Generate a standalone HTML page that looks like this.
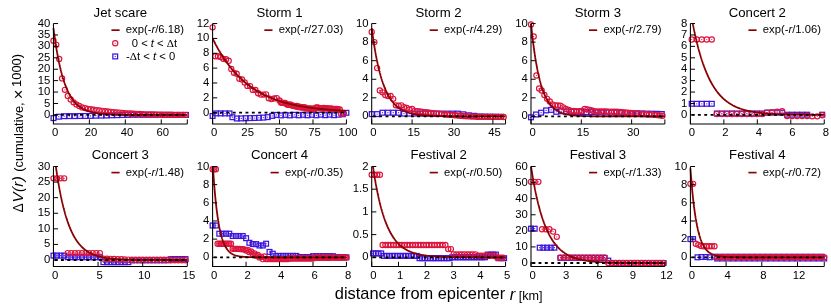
<!DOCTYPE html>
<html lang="en">
<head>
<meta charset="utf-8">
<title>Decay of activity with distance from epicenter</title>
<style>
html,body{margin:0;padding:0;background:#fff;}
body{width:831px;height:307px;overflow:hidden;}
svg{display:block;will-change:transform;}
</style>
</head>
<body>
<svg width="831" height="307" viewBox="0 0 831 307" font-family='"Liberation Sans", Arial, Helvetica, sans-serif'>
<rect width="831" height="307" fill="#fff"/>
<defs><g id="q"><rect x="-2.4" y="-2.4" width="4.8" height="4.8" fill="none" stroke="#3c14dc" stroke-width="1.25"/><circle r="0.6" fill="#3c14dc"/></g><g id="o"><circle r="2.6" fill="none" stroke="#dc143c" stroke-width="1.15"/><circle r="0.6" fill="#dc143c"/></g></defs>
<g>
<clipPath id="c0"><rect x="49.45" y="23.05" width="141.85" height="101.45"/></clipPath>
<text x="120.38" y="16.95" font-size="13.2" text-anchor="middle" fill="#000">Jet scare</text>
<g><use href="#q" x="53.5" y="118.1"/><use href="#q" x="58.8" y="116.7"/><use href="#q" x="64.1" y="116.2"/><use href="#q" x="69.4" y="116.1"/><use href="#q" x="74.7" y="116.1"/><use href="#q" x="80" y="116"/><use href="#q" x="85.3" y="116"/><use href="#q" x="90.6" y="115.9"/><use href="#q" x="95.9" y="115.7"/><use href="#q" x="101.2" y="115.6"/><use href="#q" x="106.5" y="115.5"/><use href="#q" x="111.8" y="115.3"/><use href="#q" x="117.1" y="115.2"/><use href="#q" x="122.4" y="115"/><use href="#q" x="127.7" y="114.9"/><use href="#q" x="133" y="114.8"/><use href="#q" x="138.3" y="114.8"/><use href="#q" x="143.6" y="114.8"/><use href="#q" x="148.9" y="114.8"/><use href="#q" x="154.2" y="114.8"/><use href="#q" x="159.5" y="114.8"/><use href="#q" x="164.8" y="114.9"/><use href="#q" x="170.1" y="114.9"/><use href="#q" x="175.4" y="114.9"/><use href="#q" x="180.7" y="114.9"/><use href="#q" x="186" y="114.9"/><use href="#o" x="53.5" y="40.7"/><use href="#o" x="56.3" y="44.8"/><use href="#o" x="59.2" y="58.9"/><use href="#o" x="62.1" y="78.4"/><use href="#o" x="64.9" y="89.8"/><use href="#o" x="67.8" y="95.9"/><use href="#o" x="70.7" y="99.4"/><use href="#o" x="73.6" y="102.3"/><use href="#o" x="76.4" y="104.4"/><use href="#o" x="79.3" y="106"/><use href="#o" x="82.2" y="107.4"/><use href="#o" x="85.1" y="108.1"/><use href="#o" x="87.9" y="108.8"/><use href="#o" x="90.8" y="109.2"/><use href="#o" x="93.7" y="109.7"/><use href="#o" x="96.6" y="110.1"/><use href="#o" x="99.4" y="110.5"/><use href="#o" x="102.3" y="110.8"/><use href="#o" x="105.2" y="111.2"/><use href="#o" x="108.1" y="111.5"/><use href="#o" x="110.9" y="111.8"/><use href="#o" x="113.8" y="112.1"/><use href="#o" x="116.7" y="112.4"/><use href="#o" x="119.6" y="112.6"/><use href="#o" x="122.4" y="112.9"/><use href="#o" x="125.3" y="113.2"/><use href="#o" x="128.2" y="113.4"/><use href="#o" x="131.1" y="113.5"/><use href="#o" x="133.9" y="113.7"/><use href="#o" x="136.8" y="113.8"/><use href="#o" x="139.7" y="114"/><use href="#o" x="142.6" y="114.2"/><use href="#o" x="145.4" y="114.3"/><use href="#o" x="148.3" y="114.3"/><use href="#o" x="151.2" y="114.4"/><use href="#o" x="154.1" y="114.5"/><use href="#o" x="156.9" y="114.6"/><use href="#o" x="159.8" y="114.6"/><use href="#o" x="162.7" y="114.7"/><use href="#o" x="165.6" y="114.7"/><use href="#o" x="168.4" y="114.7"/><use href="#o" x="171.3" y="114.7"/><use href="#o" x="174.2" y="114.8"/><use href="#o" x="177.1" y="114.8"/><use href="#o" x="179.9" y="114.8"/><use href="#o" x="182.8" y="114.8"/><use href="#o" x="185.7" y="114.8"/></g>
<polyline points="53.45,28.12 53.52,28.64 53.58,29.16 53.65,29.67 53.72,30.18 53.78,30.69 53.85,31.2 53.92,31.7 53.99,32.2 54.05,32.7 54.12,33.19 54.19,33.68 54.25,34.17 54.32,34.66 54.39,35.14 54.45,35.62 54.52,36.1 54.59,36.57 54.65,37.04 54.72,37.51 54.79,37.97 54.86,38.44 54.92,38.89 54.99,39.35 55.06,39.81 55.12,40.26 55.19,40.71 55.26,41.15 55.32,41.59 55.39,42.04 55.46,42.47 55.52,42.91 55.59,43.34 55.66,43.77 55.73,44.2 55.79,44.62 55.86,45.05 55.93,45.47 55.99,45.88 56.06,46.3 56.13,46.71 56.19,47.12 56.26,47.53 56.33,47.93 56.39,48.33 56.46,48.73 56.53,49.13 56.6,49.53 56.66,49.92 56.73,50.31 56.8,50.7 56.86,51.08 56.93,51.47 57,51.85 57.06,52.23 57.13,52.6 57.2,52.98 57.26,53.35 57.33,53.72 57.4,54.09 57.47,54.45 57.53,54.82 57.6,55.18 57.67,55.54 57.73,55.89 57.8,56.25 57.87,56.6 57.93,56.95 58,57.3 58.07,57.65 58.13,57.99 58.2,58.33 58.27,58.67 58.34,59.01 58.4,59.35 58.47,59.68 58.54,60.01 58.6,60.34 58.67,60.67 58.74,60.99 58.8,61.32 58.87,61.64 58.94,61.96 59,62.28 59.07,62.59 59.14,62.91 59.21,63.22 59.27,63.53 59.34,63.84 59.41,64.15 59.47,64.45 59.54,64.76 59.61,65.06 59.67,65.36 59.74,65.65 59.81,65.95 59.87,66.24 59.94,66.54 60.01,66.83 60.08,67.12 60.14,67.4 60.21,67.69 60.28,67.97 60.34,68.25 60.41,68.54 60.48,68.81 60.54,69.09 60.61,69.37 60.68,69.64 60.74,69.91 60.81,70.18 60.88,70.45 60.95,70.72 61.01,70.98 61.08,71.25 61.15,71.51 61.21,71.77 61.28,72.03 61.35,72.29 61.41,72.54 61.48,72.8 61.55,73.05 61.61,73.3 61.68,73.55 61.75,73.8 61.82,74.05 61.88,74.29 61.95,74.54 62.02,74.78 62.08,75.02 62.15,75.26 62.22,75.5 62.28,75.74 62.35,75.97 62.42,76.2 62.48,76.44 62.55,76.67 62.62,76.9 62.69,77.13 62.75,77.35 62.82,77.58 62.89,77.8 62.95,78.03 63.02,78.25 63.09,78.47 63.15,78.69 63.22,78.9 63.29,79.12 63.35,79.34 63.42,79.55 63.49,79.76 63.56,79.97 63.62,80.18 63.69,80.39 63.76,80.6 63.82,80.81 63.89,81.01 63.96,81.21 64.02,81.42 64.09,81.62 64.16,81.82 64.22,82.02 64.29,82.21 64.36,82.41 64.43,82.61 64.49,82.8 64.56,82.99 64.63,83.18 64.69,83.37 64.76,83.56 64.83,83.75 64.89,83.94 64.96,84.13 65.03,84.31 65.09,84.49 65.16,84.68 65.23,84.86 65.3,85.04 65.36,85.22 65.43,85.4 65.5,85.57 65.56,85.75 65.63,85.93 65.7,86.1 65.76,86.27 65.83,86.45 65.9,86.62 65.96,86.79 66.03,86.96 66.1,87.12 66.17,87.29 66.23,87.46 66.3,87.62 66.37,87.78 66.43,87.95 66.5,88.11 66.57,88.27 66.63,88.43 66.7,88.59 66.77,88.75 66.84,88.91 67.67,90.79 68.51,92.54 69.34,94.16 70.18,95.67 71.02,97.06 71.85,98.36 72.69,99.56 73.53,100.67 74.36,101.71 75.2,102.66 76.04,103.55 76.87,104.37 77.71,105.14 78.55,105.85 79.38,106.5 80.22,107.11 81.06,107.68 81.89,108.2 82.73,108.69 83.57,109.14 84.4,109.56 85.24,109.95 86.08,110.3 86.91,110.64 87.75,110.95 88.59,111.23 89.42,111.5 90.26,111.75 91.1,111.98 91.93,112.19 92.77,112.39 93.61,112.57 94.44,112.74 95.28,112.89 96.11,113.04 96.95,113.17 97.79,113.3 98.62,113.42 99.46,113.52 100.3,113.62 101.13,113.72 101.97,113.8 102.81,113.88 103.64,113.96 104.48,114.02 105.32,114.09 106.15,114.15 106.99,114.2 107.83,114.25 108.66,114.3 109.5,114.34 110.34,114.38 111.17,114.42 112.01,114.46 112.85,114.49 113.68,114.52 114.52,114.55 115.36,114.57 116.19,114.59 117.03,114.62 117.87,114.64 118.7,114.66 119.54,114.67 120.38,114.69 121.21,114.71 122.05,114.72 122.88,114.73 123.72,114.75 124.56,114.76 125.39,114.77 126.23,114.78 127.07,114.79 127.9,114.79 128.74,114.8 129.58,114.81 130.41,114.82 131.25,114.82 132.09,114.83 132.92,114.83 133.76,114.84 134.6,114.84 135.43,114.85 136.27,114.85 137.11,114.85 137.94,114.86 138.78,114.86 139.62,114.86 140.45,114.87 141.29,114.87 142.13,114.87 142.96,114.87 143.8,114.87 144.64,114.88 145.47,114.88 146.31,114.88 147.14,114.88 147.98,114.88 148.82,114.88 149.65,114.89 150.49,114.89 151.33,114.89 152.16,114.89 153,114.89 153.84,114.89 154.67,114.89 155.51,114.89 156.35,114.89 157.18,114.89 158.02,114.89 158.86,114.89 159.69,114.89 160.53,114.89 161.37,114.89 162.2,114.9 163.04,114.9 163.88,114.9 164.71,114.9 165.55,114.9 166.39,114.9 167.22,114.9 168.06,114.9 168.9,114.9 169.73,114.9 170.57,114.9 171.41,114.9 172.24,114.9 173.08,114.9 173.91,114.9 174.75,114.9 175.59,114.9 176.42,114.9 177.26,114.9 178.1,114.9 178.93,114.9 179.77,114.9 180.61,114.9 181.44,114.9 182.28,114.9 183.12,114.9 183.95,114.9 184.79,114.9 185.63,114.9 186.46,114.9 187.3,114.9" fill="none" stroke="#8b0000" stroke-width="1.8" stroke-linejoin="round" clip-path="url(#c0)"/>
<line x1="53.45" y1="114.9" x2="187.3" y2="114.9" stroke="#000" stroke-width="1.8" stroke-dasharray="2.9 3.45" stroke-dashoffset="-1.15"/>
<path d="M53.45 23.55V124H187.3" fill="none" stroke="#000" stroke-width="1.05"/>
<path d="M53.45 124v-4.6M89.38 124v-4.6M125.32 124v-4.6M161.25 124v-4.6M187.3 124v-4.6M53.45 114.9h4.6M53.45 103.48h4.6M53.45 92.06h4.6M53.45 80.64h4.6M53.45 69.22h4.6M53.45 57.81h4.6M53.45 46.39h4.6M53.45 34.97h4.6M53.45 23.55h4.6" fill="none" stroke="#000" stroke-width="1.0"/>
<text x="55.05" y="136.3" font-size="11.3" text-anchor="middle" fill="#000">0</text>
<text x="90.98" y="136.3" font-size="11.3" text-anchor="middle" fill="#000">20</text>
<text x="126.92" y="136.3" font-size="11.3" text-anchor="middle" fill="#000">40</text>
<text x="162.85" y="136.3" font-size="11.3" text-anchor="middle" fill="#000">60</text>
<text x="50.25" y="117.95" font-size="11.3" text-anchor="end" fill="#000">0</text>
<text x="50.25" y="106.53" font-size="11.3" text-anchor="end" fill="#000">5</text>
<text x="50.25" y="95.11" font-size="11.3" text-anchor="end" fill="#000">10</text>
<text x="50.25" y="83.69" font-size="11.3" text-anchor="end" fill="#000">15</text>
<text x="50.25" y="72.27" font-size="11.3" text-anchor="end" fill="#000">20</text>
<text x="50.25" y="60.86" font-size="11.3" text-anchor="end" fill="#000">25</text>
<text x="50.25" y="49.44" font-size="11.3" text-anchor="end" fill="#000">30</text>
<text x="50.25" y="38.02" font-size="11.3" text-anchor="end" fill="#000">35</text>
<text x="50.25" y="26.6" font-size="11.3" text-anchor="end" fill="#000">40</text>
<text x="184" y="33.35" font-size="11.25" text-anchor="end" fill="#000">exp(-<tspan font-style="italic">r</tspan>/6.18)</text>
<line x1="111.43" y1="30.15" x2="119.63" y2="30.15" stroke="#8b0000" stroke-width="1.65"/>
<use href="#o" x="115.23" y="43.25"/>
<text x="177.2" y="46.75" font-size="11.25" text-anchor="end" fill="#000">0 &lt; <tspan font-style="italic">t</tspan> &lt; <tspan font-family="Liberation Serif, serif">Δ</tspan>t</text>
<use href="#q" x="115.23" y="56.45"/>
<text x="175.2" y="59.75" font-size="11.25" text-anchor="end" fill="#000">-<tspan font-family="Liberation Serif, serif">Δ</tspan>t &lt; <tspan font-style="italic">t</tspan> &lt; 0</text>
</g>
<g>
<clipPath id="c1"><rect x="208.6" y="23.05" width="141.85" height="101.45"/></clipPath>
<text x="279.52" y="16.95" font-size="13.2" text-anchor="middle" fill="#000">Storm 1</text>
<g><use href="#q" x="212.6" y="116"/><use href="#q" x="216.2" y="113.4"/><use href="#q" x="220.6" y="113.4"/><use href="#q" x="225" y="113.4"/><use href="#q" x="229.5" y="113.4"/><use href="#q" x="232.4" y="117.2"/><use href="#q" x="236.8" y="118.5"/><use href="#q" x="241.2" y="118.4"/><use href="#q" x="245.7" y="118.2"/><use href="#q" x="250.1" y="118.1"/><use href="#q" x="254.5" y="118"/><use href="#q" x="258.9" y="117.8"/><use href="#q" x="263.3" y="117.6"/><use href="#q" x="267.7" y="117.1"/><use href="#q" x="272.2" y="115.9"/><use href="#q" x="276.6" y="114.9"/><use href="#q" x="281" y="115.4"/><use href="#q" x="285.4" y="114.9"/><use href="#q" x="289.8" y="115.4"/><use href="#q" x="294.2" y="114.8"/><use href="#q" x="298.7" y="115.3"/><use href="#q" x="303.1" y="114.8"/><use href="#q" x="307.5" y="115.3"/><use href="#q" x="311.9" y="114.8"/><use href="#q" x="316.3" y="115.3"/><use href="#q" x="320.8" y="114.7"/><use href="#q" x="325.2" y="115.2"/><use href="#q" x="329.6" y="114.7"/><use href="#q" x="334" y="115.2"/><use href="#q" x="338.4" y="114.7"/><use href="#q" x="342.8" y="114.3"/><use href="#q" x="346.4" y="112.8"/><use href="#o" x="212.6" y="27.3"/><use href="#o" x="215.3" y="56.2"/><use href="#o" x="218" y="56.2"/><use href="#o" x="220.6" y="57"/><use href="#o" x="223.3" y="58.8"/><use href="#o" x="226" y="59.2"/><use href="#o" x="228.7" y="60.7"/><use href="#o" x="231.3" y="69"/><use href="#o" x="234" y="72.8"/><use href="#o" x="236.7" y="73.7"/><use href="#o" x="239.4" y="78.8"/><use href="#o" x="242" y="79.4"/><use href="#o" x="244.7" y="82.5"/><use href="#o" x="247.4" y="85.9"/><use href="#o" x="250.1" y="86.1"/><use href="#o" x="252.8" y="89.9"/><use href="#o" x="255.4" y="90"/><use href="#o" x="258.1" y="93.2"/><use href="#o" x="260.8" y="94.6"/><use href="#o" x="263.5" y="94.6"/><use href="#o" x="266.1" y="94.3"/><use href="#o" x="268.8" y="98.3"/><use href="#o" x="271.5" y="99.1"/><use href="#o" x="274.2" y="98.4"/><use href="#o" x="276.8" y="98.1"/><use href="#o" x="279.5" y="100.5"/><use href="#o" x="282.2" y="102.9"/><use href="#o" x="284.9" y="102.9"/><use href="#o" x="287.6" y="104.8"/><use href="#o" x="290.2" y="104.5"/><use href="#o" x="292.9" y="105.8"/><use href="#o" x="295.6" y="106.5"/><use href="#o" x="298.3" y="107.1"/><use href="#o" x="300.9" y="107.4"/><use href="#o" x="303.6" y="107.2"/><use href="#o" x="306.3" y="108.4"/><use href="#o" x="309" y="108.3"/><use href="#o" x="311.6" y="108.6"/><use href="#o" x="314.3" y="109.3"/><use href="#o" x="317" y="107.4"/><use href="#o" x="319.7" y="108.1"/><use href="#o" x="322.4" y="108.4"/><use href="#o" x="325" y="108.5"/><use href="#o" x="327.7" y="108.3"/><use href="#o" x="330.4" y="108.8"/><use href="#o" x="333.1" y="109.1"/><use href="#o" x="335.7" y="109"/><use href="#o" x="338.4" y="109.3"/><use href="#o" x="341.1" y="113.8"/><use href="#o" x="343.8" y="113.8"/><use href="#o" x="280.9" y="102.5"/><use href="#o" x="283.5" y="102.9"/><use href="#o" x="286.2" y="103.7"/><use href="#o" x="288.9" y="104.8"/><use href="#o" x="291.6" y="105.2"/><use href="#o" x="294.2" y="105.8"/><use href="#o" x="296.9" y="106"/><use href="#o" x="299.6" y="106.7"/><use href="#o" x="302.3" y="107.6"/><use href="#o" x="305" y="107.4"/><use href="#o" x="307.6" y="108.6"/><use href="#o" x="310.3" y="108.7"/><use href="#o" x="313" y="108.7"/><use href="#o" x="315.7" y="107.6"/><use href="#o" x="318.3" y="107.6"/><use href="#o" x="321" y="108.3"/><use href="#o" x="323.7" y="108"/><use href="#o" x="326.4" y="108.1"/><use href="#o" x="329" y="108.5"/><use href="#o" x="331.7" y="108.5"/><use href="#o" x="334.4" y="109.2"/><use href="#o" x="337.1" y="109"/><use href="#o" x="339.8" y="109.3"/></g>
<polyline points="212.6,38.41 212.67,38.55 212.73,38.68 212.8,38.82 212.87,38.96 212.93,39.09 213,39.23 213.07,39.36 213.14,39.5 213.2,39.63 213.27,39.77 213.34,39.9 213.4,40.04 213.47,40.17 213.54,40.31 213.6,40.44 213.67,40.57 213.74,40.71 213.8,40.84 213.87,40.97 213.94,41.11 214.01,41.24 214.07,41.37 214.14,41.5 214.21,41.63 214.27,41.77 214.34,41.9 214.41,42.03 214.47,42.16 214.54,42.29 214.61,42.42 214.67,42.55 214.74,42.68 214.81,42.81 214.88,42.94 214.94,43.07 215.01,43.19 215.08,43.32 215.14,43.45 215.21,43.58 215.28,43.71 215.34,43.83 215.41,43.96 215.48,44.09 215.54,44.22 215.61,44.34 215.68,44.47 215.75,44.59 215.81,44.72 215.88,44.85 215.95,44.97 216.01,45.1 216.08,45.22 216.15,45.35 216.21,45.47 216.28,45.59 216.35,45.72 216.41,45.84 216.48,45.97 216.55,46.09 216.62,46.21 216.68,46.34 216.75,46.46 216.82,46.58 216.88,46.7 216.95,46.82 217.02,46.95 217.08,47.07 217.15,47.19 217.22,47.31 217.28,47.43 217.35,47.55 217.42,47.67 217.49,47.79 217.55,47.91 217.62,48.03 217.69,48.15 217.75,48.27 217.82,48.39 217.89,48.51 217.95,48.63 218.02,48.75 218.09,48.86 218.15,48.98 218.22,49.1 218.29,49.22 218.36,49.33 218.42,49.45 218.49,49.57 218.56,49.69 218.62,49.8 218.69,49.92 218.76,50.03 218.82,50.15 218.89,50.27 218.96,50.38 219.02,50.5 219.09,50.61 219.16,50.73 219.23,50.84 219.29,50.95 219.36,51.07 219.43,51.18 219.49,51.3 219.56,51.41 219.63,51.52 219.69,51.64 219.76,51.75 219.83,51.86 219.89,51.97 219.96,52.09 220.03,52.2 220.1,52.31 220.16,52.42 220.23,52.53 220.3,52.64 220.36,52.76 220.43,52.87 220.5,52.98 220.56,53.09 220.63,53.2 220.7,53.31 220.76,53.42 220.83,53.53 220.9,53.64 220.97,53.75 221.03,53.85 221.1,53.96 221.17,54.07 221.23,54.18 221.3,54.29 221.37,54.4 221.43,54.5 221.5,54.61 221.57,54.72 221.63,54.83 221.7,54.93 221.77,55.04 221.84,55.15 221.9,55.25 221.97,55.36 222.04,55.46 222.1,55.57 222.17,55.68 222.24,55.78 222.3,55.89 222.37,55.99 222.44,56.1 222.5,56.2 222.57,56.31 222.64,56.41 222.71,56.51 222.77,56.62 222.84,56.72 222.91,56.82 222.97,56.93 223.04,57.03 223.11,57.13 223.17,57.24 223.24,57.34 223.31,57.44 223.37,57.54 223.44,57.65 223.51,57.75 223.58,57.85 223.64,57.95 223.71,58.05 223.78,58.15 223.84,58.25 223.91,58.35 223.98,58.45 224.04,58.55 224.11,58.65 224.18,58.75 224.24,58.85 224.31,58.95 224.38,59.05 224.45,59.15 224.51,59.25 224.58,59.35 224.65,59.45 224.71,59.55 224.78,59.64 224.85,59.74 224.91,59.84 224.98,59.94 225.05,60.04 225.11,60.13 225.18,60.23 225.25,60.33 225.32,60.42 225.38,60.52 225.45,60.62 225.52,60.71 225.58,60.81 225.65,60.91 225.72,61 225.78,61.1 225.85,61.19 225.92,61.29 225.98,61.38 226.82,62.56 227.66,63.7 228.49,64.82 229.33,65.92 230.17,66.98 231,68.03 231.84,69.05 232.68,70.05 233.51,71.02 234.35,71.98 235.19,72.91 236.02,73.82 236.86,74.71 237.7,75.57 238.53,76.42 239.37,77.25 240.21,78.06 241.04,78.85 241.88,79.63 242.72,80.38 243.55,81.12 244.39,81.84 245.23,82.55 246.06,83.24 246.9,83.91 247.74,84.57 248.57,85.21 249.41,85.84 250.25,86.45 251.08,87.05 251.92,87.64 252.75,88.21 253.59,88.77 254.43,89.32 255.26,89.85 256.1,90.38 256.94,90.89 257.77,91.39 258.61,91.87 259.45,92.35 260.28,92.81 261.12,93.27 261.96,93.71 262.79,94.15 263.63,94.57 264.47,94.99 265.3,95.39 266.14,95.79 266.98,96.17 267.81,96.55 268.65,96.92 269.49,97.28 270.32,97.63 271.16,97.98 272,98.31 272.83,98.64 273.67,98.96 274.51,99.28 275.34,99.58 276.18,99.88 277.02,100.18 277.85,100.46 278.69,100.74 279.52,101.02 280.36,101.28 281.2,101.54 282.03,101.8 282.87,102.05 283.71,102.29 284.54,102.53 285.38,102.76 286.22,102.99 287.05,103.21 287.89,103.43 288.73,103.64 289.56,103.85 290.4,104.05 291.24,104.25 292.07,104.44 292.91,104.63 293.75,104.81 294.58,104.99 295.42,105.17 296.26,105.34 297.09,105.51 297.93,105.67 298.77,105.84 299.6,105.99 300.44,106.15 301.28,106.3 302.11,106.44 302.95,106.58 303.79,106.72 304.62,106.86 305.46,106.99 306.3,107.13 307.13,107.25 307.97,107.38 308.8,107.5 309.64,107.62 310.48,107.73 311.31,107.85 312.15,107.96 312.99,108.07 313.82,108.17 314.66,108.28 315.5,108.38 316.33,108.48 317.17,108.57 318.01,108.67 318.84,108.76 319.68,108.85 320.52,108.94 321.35,109.02 322.19,109.11 323.03,109.19 323.86,109.27 324.7,109.35 325.54,109.42 326.37,109.5 327.21,109.57 328.05,109.64 328.88,109.71 329.72,109.78 330.56,109.85 331.39,109.91 332.23,109.98 333.06,110.04 333.9,110.1 334.74,110.16 335.57,110.22 336.41,110.27 337.25,110.33 338.08,110.38 338.92,110.44 339.76,110.49 340.59,110.54 341.43,110.59 342.27,110.64 343.1,110.68 343.94,110.73 344.78,110.78 345.61,110.82 346.45,110.86" fill="none" stroke="#8b0000" stroke-width="1.8" stroke-linejoin="round" clip-path="url(#c1)"/>
<line x1="212.6" y1="112.7" x2="346.45" y2="112.7" stroke="#000" stroke-width="1.8" stroke-dasharray="2.9 3.45" stroke-dashoffset="-1.15"/>
<path d="M212.6 23.55V124H346.45" fill="none" stroke="#000" stroke-width="1.05"/>
<path d="M212.6 124v-4.6M246.06 124v-4.6M279.52 124v-4.6M312.99 124v-4.6M346.45 124v-4.6M212.6 112.7h4.6M212.6 97.84h4.6M212.6 82.98h4.6M212.6 68.12h4.6M212.6 53.27h4.6M212.6 38.41h4.6M212.6 23.55h4.6" fill="none" stroke="#000" stroke-width="1.0"/>
<text x="214.2" y="136.3" font-size="11.3" text-anchor="middle" fill="#000">0</text>
<text x="247.66" y="136.3" font-size="11.3" text-anchor="middle" fill="#000">25</text>
<text x="281.12" y="136.3" font-size="11.3" text-anchor="middle" fill="#000">50</text>
<text x="314.59" y="136.3" font-size="11.3" text-anchor="middle" fill="#000">75</text>
<text x="348.05" y="136.3" font-size="11.3" text-anchor="middle" fill="#000">100</text>
<text x="209.4" y="115.75" font-size="11.3" text-anchor="end" fill="#000">0</text>
<text x="209.4" y="100.89" font-size="11.3" text-anchor="end" fill="#000">2</text>
<text x="209.4" y="86.03" font-size="11.3" text-anchor="end" fill="#000">4</text>
<text x="209.4" y="71.17" font-size="11.3" text-anchor="end" fill="#000">6</text>
<text x="209.4" y="56.32" font-size="11.3" text-anchor="end" fill="#000">8</text>
<text x="209.4" y="41.46" font-size="11.3" text-anchor="end" fill="#000">10</text>
<text x="209.4" y="26.6" font-size="11.3" text-anchor="end" fill="#000">12</text>
<text x="343.15" y="33.35" font-size="11.25" text-anchor="end" fill="#000">exp(-<tspan font-style="italic">r</tspan>/27.03)</text>
<line x1="264.32" y1="30.15" x2="272.52" y2="30.15" stroke="#8b0000" stroke-width="1.65"/>
</g>
<g>
<clipPath id="c2"><rect x="367.7" y="23.05" width="141.85" height="101.45"/></clipPath>
<text x="438.62" y="16.95" font-size="13.2" text-anchor="middle" fill="#000">Storm 2</text>
<g><use href="#q" x="371.7" y="114.1"/><use href="#q" x="377.1" y="114.1"/><use href="#q" x="382.5" y="112.7"/><use href="#q" x="387.9" y="112.7"/><use href="#q" x="393.2" y="112.7"/><use href="#q" x="398.6" y="112.7"/><use href="#q" x="404" y="113.6"/><use href="#q" x="409.4" y="113.6"/><use href="#q" x="414.8" y="113.6"/><use href="#q" x="420.2" y="113.6"/><use href="#q" x="425.6" y="113.6"/><use href="#q" x="430.9" y="113.6"/><use href="#q" x="436.3" y="113.6"/><use href="#q" x="441.7" y="113.6"/><use href="#q" x="447.1" y="113.6"/><use href="#q" x="452.5" y="113.6"/><use href="#q" x="457.9" y="113.6"/><use href="#q" x="463.3" y="114.3"/><use href="#q" x="468.7" y="115.3"/><use href="#q" x="474" y="115.8"/><use href="#q" x="479.4" y="116.4"/><use href="#q" x="484.8" y="116.5"/><use href="#q" x="490.2" y="116.6"/><use href="#q" x="495.6" y="116.7"/><use href="#q" x="501" y="116.8"/><use href="#o" x="371.7" y="31.9"/><use href="#o" x="374.4" y="42.1"/><use href="#o" x="377.1" y="68.1"/><use href="#o" x="379.8" y="90.4"/><use href="#o" x="382.5" y="92.3"/><use href="#o" x="385.2" y="95"/><use href="#o" x="387.9" y="96"/><use href="#o" x="390.6" y="96"/><use href="#o" x="393.2" y="98.8"/><use href="#o" x="395.9" y="105.3"/><use href="#o" x="398.6" y="105.7"/><use href="#o" x="401.3" y="105.3"/><use href="#o" x="404" y="107.1"/><use href="#o" x="406.7" y="108"/><use href="#o" x="409.4" y="109.4"/><use href="#o" x="412.1" y="109"/><use href="#o" x="414.8" y="110.8"/><use href="#o" x="417.5" y="111.2"/><use href="#o" x="420.2" y="111.5"/><use href="#o" x="422.9" y="111.9"/><use href="#o" x="425.6" y="112.2"/><use href="#o" x="428.3" y="112.5"/><use href="#o" x="430.9" y="112.8"/><use href="#o" x="433.6" y="113.1"/><use href="#o" x="436.3" y="113.3"/><use href="#o" x="439" y="113.6"/><use href="#o" x="441.7" y="113.9"/><use href="#o" x="444.4" y="114.2"/><use href="#o" x="447.1" y="114.5"/><use href="#o" x="449.8" y="114.7"/><use href="#o" x="452.5" y="115"/><use href="#o" x="455.2" y="115.2"/><use href="#o" x="457.9" y="115.5"/><use href="#o" x="460.6" y="115.7"/><use href="#o" x="463.3" y="116"/><use href="#o" x="466" y="116.2"/><use href="#o" x="468.7" y="116.3"/><use href="#o" x="471.3" y="116.5"/><use href="#o" x="474" y="116.6"/><use href="#o" x="476.7" y="116.7"/><use href="#o" x="479.4" y="116.9"/><use href="#o" x="482.1" y="116.9"/><use href="#o" x="484.8" y="116.9"/><use href="#o" x="487.5" y="116.9"/><use href="#o" x="490.2" y="116.9"/><use href="#o" x="492.9" y="116.9"/><use href="#o" x="495.6" y="116.9"/><use href="#o" x="498.3" y="116.9"/><use href="#o" x="501" y="116.9"/><use href="#o" x="503.7" y="117"/></g>
<polyline points="371.7,28.19 371.77,28.7 371.83,29.21 371.9,29.71 371.97,30.21 372.03,30.71 372.1,31.21 372.17,31.7 372.24,32.19 372.3,32.67 372.37,33.16 372.44,33.64 372.5,34.12 372.57,34.59 372.64,35.06 372.7,35.53 372.77,36 372.84,36.46 372.9,36.93 372.97,37.39 373.04,37.84 373.11,38.3 373.17,38.75 373.24,39.2 373.31,39.64 373.37,40.08 373.44,40.53 373.51,40.96 373.57,41.4 373.64,41.83 373.71,42.26 373.77,42.69 373.84,43.12 373.91,43.54 373.98,43.96 374.04,44.38 374.11,44.8 374.18,45.21 374.24,45.62 374.31,46.03 374.38,46.44 374.44,46.84 374.51,47.24 374.58,47.64 374.64,48.04 374.71,48.43 374.78,48.83 374.85,49.22 374.91,49.6 374.98,49.99 375.05,50.37 375.11,50.75 375.18,51.13 375.25,51.51 375.31,51.89 375.38,52.26 375.45,52.63 375.51,53 375.58,53.36 375.65,53.73 375.72,54.09 375.78,54.45 375.85,54.81 375.92,55.16 375.98,55.52 376.05,55.87 376.12,56.22 376.18,56.56 376.25,56.91 376.32,57.25 376.38,57.6 376.45,57.94 376.52,58.27 376.59,58.61 376.65,58.94 376.72,59.27 376.79,59.6 376.85,59.93 376.92,60.26 376.99,60.58 377.05,60.91 377.12,61.23 377.19,61.54 377.25,61.86 377.32,62.18 377.39,62.49 377.46,62.8 377.52,63.11 377.59,63.42 377.66,63.72 377.72,64.03 377.79,64.33 377.86,64.63 377.92,64.93 377.99,65.23 378.06,65.52 378.12,65.82 378.19,66.11 378.26,66.4 378.33,66.69 378.39,66.98 378.46,67.26 378.53,67.55 378.59,67.83 378.66,68.11 378.73,68.39 378.79,68.66 378.86,68.94 378.93,69.21 378.99,69.49 379.06,69.76 379.13,70.03 379.2,70.29 379.26,70.56 379.33,70.83 379.4,71.09 379.46,71.35 379.53,71.61 379.6,71.87 379.66,72.13 379.73,72.38 379.8,72.64 379.86,72.89 379.93,73.14 380,73.39 380.07,73.64 380.13,73.89 380.2,74.13 380.27,74.38 380.33,74.62 380.4,74.86 380.47,75.1 380.53,75.34 380.6,75.58 380.67,75.81 380.73,76.05 380.8,76.28 380.87,76.51 380.94,76.74 381,76.97 381.07,77.2 381.14,77.42 381.2,77.65 381.27,77.87 381.34,78.1 381.4,78.32 381.47,78.54 381.54,78.76 381.6,78.97 381.67,79.19 381.74,79.4 381.81,79.62 381.87,79.83 381.94,80.04 382.01,80.25 382.07,80.46 382.14,80.67 382.21,80.87 382.27,81.08 382.34,81.28 382.41,81.49 382.47,81.69 382.54,81.89 382.61,82.09 382.68,82.29 382.74,82.48 382.81,82.68 382.88,82.87 382.94,83.07 383.01,83.26 383.08,83.45 383.14,83.64 383.21,83.83 383.28,84.02 383.34,84.21 383.41,84.39 383.48,84.58 383.55,84.76 383.61,84.94 383.68,85.12 383.75,85.31 383.81,85.48 383.88,85.66 383.95,85.84 384.01,86.02 384.08,86.19 384.15,86.37 384.21,86.54 384.28,86.71 384.35,86.88 384.42,87.06 384.48,87.22 384.55,87.39 384.62,87.56 384.68,87.73 384.75,87.89 384.82,88.06 384.88,88.22 384.95,88.38 385.02,88.55 385.08,88.71 385.92,90.64 386.76,92.44 387.59,94.11 388.43,95.67 389.27,97.12 390.1,98.47 390.94,99.72 391.78,100.88 392.61,101.97 393.45,102.98 394.29,103.91 395.12,104.78 395.96,105.6 396.8,106.35 397.63,107.05 398.47,107.71 399.31,108.31 400.14,108.88 400.98,109.4 401.82,109.89 402.65,110.35 403.49,110.77 404.33,111.16 405.16,111.53 406,111.87 406.84,112.19 407.67,112.48 408.51,112.75 409.35,113.01 410.18,113.25 411.02,113.47 411.86,113.67 412.69,113.86 413.53,114.04 414.36,114.2 415.2,114.36 416.04,114.5 416.87,114.63 417.71,114.76 418.55,114.87 419.38,114.98 420.22,115.08 421.06,115.17 421.89,115.26 422.73,115.34 423.57,115.41 424.4,115.48 425.24,115.54 426.08,115.6 426.91,115.66 427.75,115.71 428.59,115.76 429.42,115.8 430.26,115.84 431.1,115.88 431.93,115.92 432.77,115.95 433.61,115.98 434.44,116.01 435.28,116.04 436.12,116.07 436.95,116.09 437.79,116.11 438.62,116.13 439.46,116.15 440.3,116.17 441.13,116.18 441.97,116.2 442.81,116.21 443.64,116.23 444.48,116.24 445.32,116.25 446.15,116.26 446.99,116.27 447.83,116.28 448.66,116.29 449.5,116.3 450.34,116.3 451.17,116.31 452.01,116.32 452.85,116.32 453.68,116.33 454.52,116.33 455.36,116.34 456.19,116.34 457.03,116.35 457.87,116.35 458.7,116.35 459.54,116.36 460.38,116.36 461.21,116.36 462.05,116.36 462.89,116.37 463.72,116.37 464.56,116.37 465.39,116.37 466.23,116.38 467.07,116.38 467.9,116.38 468.74,116.38 469.58,116.38 470.41,116.38 471.25,116.38 472.09,116.39 472.92,116.39 473.76,116.39 474.6,116.39 475.43,116.39 476.27,116.39 477.11,116.39 477.94,116.39 478.78,116.39 479.62,116.39 480.45,116.39 481.29,116.39 482.13,116.39 482.96,116.39 483.8,116.39 484.64,116.39 485.47,116.4 486.31,116.4 487.15,116.4 487.98,116.4 488.82,116.4 489.66,116.4 490.49,116.4 491.33,116.4 492.16,116.4 493,116.4 493.84,116.4 494.67,116.4 495.51,116.4 496.35,116.4 497.18,116.4 498.02,116.4 498.86,116.4 499.69,116.4 500.53,116.4 501.37,116.4 502.2,116.4 503.04,116.4 503.88,116.4 504.71,116.4 505.55,116.4" fill="none" stroke="#8b0000" stroke-width="1.8" stroke-linejoin="round" clip-path="url(#c2)"/>
<line x1="371.7" y1="116.4" x2="505.55" y2="116.4" stroke="#000" stroke-width="1.8" stroke-dasharray="2.9 3.45" stroke-dashoffset="-1.15"/>
<path d="M371.7 23.55V124H505.55" fill="none" stroke="#000" stroke-width="1.05"/>
<path d="M371.7 124v-4.6M412.1 124v-4.6M452.49 124v-4.6M492.89 124v-4.6M505.55 124v-4.6M371.7 116.4h4.6M371.7 97.83h4.6M371.7 79.26h4.6M371.7 60.69h4.6M371.7 42.12h4.6M371.7 23.55h4.6" fill="none" stroke="#000" stroke-width="1.0"/>
<text x="373.3" y="136.3" font-size="11.3" text-anchor="middle" fill="#000">0</text>
<text x="413.7" y="136.3" font-size="11.3" text-anchor="middle" fill="#000">15</text>
<text x="454.09" y="136.3" font-size="11.3" text-anchor="middle" fill="#000">30</text>
<text x="494.49" y="136.3" font-size="11.3" text-anchor="middle" fill="#000">45</text>
<text x="368.5" y="119.45" font-size="11.3" text-anchor="end" fill="#000">0</text>
<text x="368.5" y="100.88" font-size="11.3" text-anchor="end" fill="#000">2</text>
<text x="368.5" y="82.31" font-size="11.3" text-anchor="end" fill="#000">4</text>
<text x="368.5" y="63.74" font-size="11.3" text-anchor="end" fill="#000">6</text>
<text x="368.5" y="45.17" font-size="11.3" text-anchor="end" fill="#000">8</text>
<text x="368.5" y="26.6" font-size="11.3" text-anchor="end" fill="#000">10</text>
<text x="502.25" y="33.35" font-size="11.25" text-anchor="end" fill="#000">exp(-<tspan font-style="italic">r</tspan>/4.29)</text>
<line x1="429.68" y1="30.15" x2="437.88" y2="30.15" stroke="#8b0000" stroke-width="1.65"/>
</g>
<g>
<clipPath id="c3"><rect x="527" y="23.05" width="141.85" height="101.45"/></clipPath>
<text x="597.92" y="16.95" font-size="13.2" text-anchor="middle" fill="#000">Storm 3</text>
<g><use href="#q" x="531" y="117.3"/><use href="#q" x="536" y="114.5"/><use href="#q" x="541.1" y="112.7"/><use href="#q" x="546.1" y="110.4"/><use href="#q" x="551.1" y="109.9"/><use href="#q" x="556.2" y="111.8"/><use href="#q" x="561.2" y="111.3"/><use href="#q" x="566.2" y="111.5"/><use href="#q" x="571.3" y="111.8"/><use href="#q" x="576.3" y="111.9"/><use href="#q" x="581.3" y="112"/><use href="#q" x="586.4" y="112.1"/><use href="#q" x="591.4" y="112.2"/><use href="#q" x="596.4" y="112.3"/><use href="#q" x="601.4" y="112.4"/><use href="#q" x="606.5" y="112.5"/><use href="#q" x="611.5" y="112.6"/><use href="#q" x="616.5" y="112.7"/><use href="#q" x="621.6" y="112.9"/><use href="#q" x="626.6" y="113"/><use href="#q" x="631.6" y="113.2"/><use href="#q" x="636.7" y="113.3"/><use href="#q" x="641.7" y="113.4"/><use href="#q" x="646.7" y="113.6"/><use href="#q" x="651.8" y="113.7"/><use href="#q" x="656.8" y="113.8"/><use href="#q" x="661.8" y="114"/><use href="#o" x="531" y="24.5"/><use href="#o" x="533.7" y="36.5"/><use href="#o" x="536.4" y="75.5"/><use href="#o" x="539.1" y="88.5"/><use href="#o" x="541.7" y="90.4"/><use href="#o" x="544.4" y="95"/><use href="#o" x="547.1" y="98.8"/><use href="#o" x="549.8" y="101.5"/><use href="#o" x="552.5" y="104.3"/><use href="#o" x="555.2" y="105.3"/><use href="#o" x="557.8" y="105.5"/><use href="#o" x="560.5" y="105.7"/><use href="#o" x="563.2" y="107.3"/><use href="#o" x="565.9" y="109"/><use href="#o" x="568.6" y="109.9"/><use href="#o" x="571.3" y="110.8"/><use href="#o" x="573.9" y="111"/><use href="#o" x="576.6" y="111.1"/><use href="#o" x="579.3" y="111.2"/><use href="#o" x="582" y="110.8"/><use href="#o" x="584.7" y="109"/><use href="#o" x="587.4" y="109.4"/><use href="#o" x="590" y="109.9"/><use href="#o" x="592.7" y="110.7"/><use href="#o" x="595.4" y="111.3"/><use href="#o" x="598.1" y="111.4"/><use href="#o" x="600.8" y="111.4"/><use href="#o" x="603.5" y="111.5"/><use href="#o" x="606.1" y="111.5"/><use href="#o" x="608.8" y="111.6"/><use href="#o" x="611.5" y="111.6"/><use href="#o" x="614.2" y="111.7"/><use href="#o" x="616.9" y="111.7"/><use href="#o" x="619.6" y="111.9"/><use href="#o" x="622.2" y="112.2"/><use href="#o" x="624.9" y="112.5"/><use href="#o" x="627.6" y="112.7"/><use href="#o" x="630.3" y="113"/><use href="#o" x="633" y="113.2"/><use href="#o" x="635.7" y="113.4"/><use href="#o" x="638.3" y="113.6"/><use href="#o" x="641" y="113.8"/><use href="#o" x="643.7" y="114"/><use href="#o" x="646.4" y="114.2"/><use href="#o" x="649.1" y="114.4"/><use href="#o" x="651.8" y="114.5"/><use href="#o" x="654.5" y="114.8"/><use href="#o" x="657.1" y="115.1"/><use href="#o" x="659.8" y="115.4"/><use href="#o" x="662.5" y="115.7"/></g>
<polyline points="531,23.55 531.07,24.21 531.13,24.87 531.2,25.52 531.27,26.17 531.33,26.81 531.4,27.45 531.47,28.08 531.54,28.71 531.6,29.34 531.67,29.96 531.74,30.57 531.8,31.18 531.87,31.79 531.94,32.39 532,32.99 532.07,33.59 532.14,34.18 532.2,34.76 532.27,35.35 532.34,35.92 532.41,36.5 532.47,37.07 532.54,37.63 532.61,38.19 532.67,38.75 532.74,39.3 532.81,39.85 532.87,40.4 532.94,40.94 533.01,41.48 533.07,42.01 533.14,42.54 533.21,43.07 533.28,43.59 533.34,44.11 533.41,44.62 533.48,45.13 533.54,45.64 533.61,46.15 533.68,46.65 533.74,47.14 533.81,47.64 533.88,48.13 533.94,48.61 534.01,49.1 534.08,49.58 534.15,50.05 534.21,50.52 534.28,50.99 534.35,51.46 534.41,51.92 534.48,52.38 534.55,52.84 534.61,53.29 534.68,53.74 534.75,54.19 534.81,54.63 534.88,55.07 534.95,55.51 535.02,55.94 535.08,56.37 535.15,56.8 535.22,57.22 535.28,57.65 535.35,58.07 535.42,58.48 535.48,58.89 535.55,59.3 535.62,59.71 535.68,60.11 535.75,60.51 535.82,60.91 535.89,61.31 535.95,61.7 536.02,62.09 536.09,62.48 536.15,62.86 536.22,63.24 536.29,63.62 536.35,64 536.42,64.37 536.49,64.74 536.55,65.11 536.62,65.48 536.69,65.84 536.76,66.2 536.82,66.56 536.89,66.91 536.96,67.26 537.02,67.61 537.09,67.96 537.16,68.31 537.22,68.65 537.29,68.99 537.36,69.33 537.42,69.66 537.49,70 537.56,70.33 537.63,70.66 537.69,70.98 537.76,71.3 537.83,71.63 537.89,71.94 537.96,72.26 538.03,72.58 538.09,72.89 538.16,73.2 538.23,73.51 538.29,73.81 538.36,74.12 538.43,74.42 538.5,74.72 538.56,75.01 538.63,75.31 538.7,75.6 538.76,75.89 538.83,76.18 538.9,76.47 538.96,76.75 539.03,77.03 539.1,77.31 539.16,77.59 539.23,77.87 539.3,78.14 539.37,78.42 539.43,78.69 539.5,78.96 539.57,79.22 539.63,79.49 539.7,79.75 539.77,80.01 539.83,80.27 539.9,80.53 539.97,80.78 540.03,81.04 540.1,81.29 540.17,81.54 540.24,81.79 540.3,82.03 540.37,82.28 540.44,82.52 540.5,82.76 540.57,83 540.64,83.24 540.7,83.48 540.77,83.71 540.84,83.94 540.9,84.18 540.97,84.41 541.04,84.63 541.11,84.86 541.17,85.08 541.24,85.31 541.31,85.53 541.37,85.75 541.44,85.97 541.51,86.18 541.57,86.4 541.64,86.61 541.71,86.83 541.77,87.04 541.84,87.25 541.91,87.45 541.98,87.66 542.04,87.86 542.11,88.07 542.18,88.27 542.24,88.47 542.31,88.67 542.38,88.87 542.44,89.06 542.51,89.26 542.58,89.45 542.64,89.64 542.71,89.83 542.78,90.02 542.85,90.21 542.91,90.4 542.98,90.58 543.05,90.77 543.11,90.95 543.18,91.13 543.25,91.31 543.31,91.49 543.38,91.67 543.45,91.84 543.51,92.02 543.58,92.19 543.65,92.36 543.72,92.54 543.78,92.71 543.85,92.87 543.92,93.04 543.98,93.21 544.05,93.37 544.12,93.54 544.18,93.7 544.25,93.86 544.32,94.02 545.22,96.08 546.06,97.82 546.89,99.41 547.73,100.86 548.57,102.19 549.4,103.4 550.24,104.52 551.08,105.53 551.91,106.46 552.75,107.31 553.59,108.09 554.42,108.8 555.26,109.45 556.1,110.04 556.93,110.59 557.77,111.08 558.61,111.54 559.44,111.95 560.28,112.33 561.12,112.68 561.95,113 562.79,113.29 563.63,113.56 564.46,113.8 565.3,114.02 566.14,114.23 566.97,114.41 567.81,114.58 568.65,114.74 569.48,114.88 570.32,115.01 571.15,115.13 571.99,115.24 572.83,115.34 573.66,115.43 574.5,115.51 575.34,115.59 576.17,115.66 577.01,115.72 577.85,115.78 578.68,115.83 579.52,115.88 580.36,115.92 581.19,115.96 582.03,116 582.87,116.04 583.7,116.07 584.54,116.1 585.38,116.12 586.21,116.15 587.05,116.17 587.89,116.19 588.72,116.21 589.56,116.22 590.4,116.24 591.23,116.25 592.07,116.26 592.91,116.28 593.74,116.29 594.58,116.3 595.42,116.3 596.25,116.31 597.09,116.32 597.92,116.33 598.76,116.33 599.6,116.34 600.43,116.34 601.27,116.35 602.11,116.35 602.94,116.36 603.78,116.36 604.62,116.36 605.45,116.37 606.29,116.37 607.13,116.37 607.96,116.38 608.8,116.38 609.64,116.38 610.47,116.38 611.31,116.38 612.15,116.38 612.98,116.39 613.82,116.39 614.66,116.39 615.49,116.39 616.33,116.39 617.17,116.39 618,116.39 618.84,116.39 619.68,116.39 620.51,116.39 621.35,116.39 622.19,116.39 623.02,116.4 623.86,116.4 624.7,116.4 625.53,116.4 626.37,116.4 627.2,116.4 628.04,116.4 628.88,116.4 629.71,116.4 630.55,116.4 631.39,116.4 632.22,116.4 633.06,116.4 633.9,116.4 634.73,116.4 635.57,116.4 636.41,116.4 637.24,116.4 638.08,116.4 638.92,116.4 639.75,116.4 640.59,116.4 641.43,116.4 642.26,116.4 643.1,116.4 643.94,116.4 644.77,116.4 645.61,116.4 646.45,116.4 647.28,116.4 648.12,116.4 648.96,116.4 649.79,116.4 650.63,116.4 651.47,116.4 652.3,116.4 653.14,116.4 653.97,116.4 654.81,116.4 655.65,116.4 656.48,116.4 657.32,116.4 658.16,116.4 658.99,116.4 659.83,116.4 660.67,116.4 661.5,116.4 662.34,116.4 663.18,116.4 664.01,116.4 664.85,116.4" fill="none" stroke="#8b0000" stroke-width="1.8" stroke-linejoin="round" clip-path="url(#c3)"/>
<line x1="531" y1="116.4" x2="664.85" y2="116.4" stroke="#000" stroke-width="1.8" stroke-dasharray="2.9 3.45" stroke-dashoffset="-1.15"/>
<path d="M531 23.55V124H664.85" fill="none" stroke="#000" stroke-width="1.05"/>
<path d="M531 124v-4.6M581.32 124v-4.6M631.64 124v-4.6M664.85 124v-4.6M531 116.4h4.6M531 97.83h4.6M531 79.26h4.6M531 60.69h4.6M531 42.12h4.6M531 23.55h4.6" fill="none" stroke="#000" stroke-width="1.0"/>
<text x="532.6" y="136.3" font-size="11.3" text-anchor="middle" fill="#000">0</text>
<text x="582.92" y="136.3" font-size="11.3" text-anchor="middle" fill="#000">15</text>
<text x="633.24" y="136.3" font-size="11.3" text-anchor="middle" fill="#000">30</text>
<text x="527.8" y="119.45" font-size="11.3" text-anchor="end" fill="#000">0</text>
<text x="527.8" y="100.88" font-size="11.3" text-anchor="end" fill="#000">2</text>
<text x="527.8" y="82.31" font-size="11.3" text-anchor="end" fill="#000">4</text>
<text x="527.8" y="63.74" font-size="11.3" text-anchor="end" fill="#000">6</text>
<text x="527.8" y="45.17" font-size="11.3" text-anchor="end" fill="#000">8</text>
<text x="527.8" y="26.6" font-size="11.3" text-anchor="end" fill="#000">10</text>
<text x="661.55" y="33.35" font-size="11.25" text-anchor="end" fill="#000">exp(-<tspan font-style="italic">r</tspan>/2.79)</text>
<line x1="588.98" y1="30.15" x2="597.18" y2="30.15" stroke="#8b0000" stroke-width="1.65"/>
</g>
<g>
<clipPath id="c4"><rect x="686.4" y="23.05" width="141.85" height="101.45"/></clipPath>
<text x="757.32" y="16.95" font-size="13.2" text-anchor="middle" fill="#000">Concert 2</text>
<g><use href="#q" x="691.7" y="103.8"/><use href="#q" x="696.8" y="103.8"/><use href="#q" x="701.8" y="103.8"/><use href="#q" x="706.8" y="103.8"/><use href="#q" x="711.8" y="103.8"/><use href="#q" x="716.8" y="113.5"/><use href="#q" x="721.9" y="113.5"/><use href="#q" x="726.9" y="113.5"/><use href="#q" x="731.9" y="113.5"/><use href="#q" x="736.9" y="113.5"/><use href="#q" x="741.9" y="113.5"/><use href="#q" x="747" y="113.5"/><use href="#q" x="752" y="113.5"/><use href="#q" x="757" y="113.5"/><use href="#q" x="762" y="113.5"/><use href="#q" x="767" y="112.6"/><use href="#q" x="772" y="112.6"/><use href="#q" x="777.1" y="112.6"/><use href="#q" x="782.1" y="112.6"/><use href="#q" x="787.1" y="114.7"/><use href="#q" x="792.1" y="114.7"/><use href="#q" x="797.1" y="114.7"/><use href="#q" x="802.2" y="114.7"/><use href="#q" x="807.2" y="114.7"/><use href="#q" x="822.2" y="114.7"/><use href="#o" x="691.7" y="39.5"/><use href="#o" x="696.8" y="39.5"/><use href="#o" x="701.8" y="39.5"/><use href="#o" x="706.8" y="39.5"/><use href="#o" x="711.8" y="39.5"/><use href="#o" x="716.8" y="114"/><use href="#o" x="721.9" y="114"/><use href="#o" x="726.9" y="114"/><use href="#o" x="731.9" y="114"/><use href="#o" x="736.9" y="114"/><use href="#o" x="741.9" y="114"/><use href="#o" x="747" y="114"/><use href="#o" x="752" y="114"/><use href="#o" x="757" y="114"/><use href="#o" x="762" y="114"/><use href="#o" x="767" y="112.6"/><use href="#o" x="772" y="112.2"/><use href="#o" x="777.1" y="111.7"/><use href="#o" x="782.1" y="111.2"/><use href="#o" x="787.1" y="116"/><use href="#o" x="792.1" y="116"/><use href="#o" x="797.1" y="116"/><use href="#o" x="802.2" y="116"/><use href="#o" x="807.2" y="116"/><use href="#o" x="812.2" y="116.3"/><use href="#o" x="817.2" y="116.3"/><use href="#o" x="822.2" y="115.2"/></g>
<polyline points="690.4,10.42 690.47,10.81 690.53,11.2 690.6,11.59 690.67,11.98 690.73,12.37 690.8,12.76 690.87,13.14 690.94,13.53 691,13.91 691.07,14.29 691.14,14.67 691.2,15.04 691.27,15.42 691.34,15.79 691.4,16.17 691.47,16.54 691.54,16.91 691.6,17.28 691.67,17.65 691.74,18.01 691.81,18.38 691.87,18.74 691.94,19.1 692.01,19.47 692.07,19.82 692.14,20.18 692.21,20.54 692.27,20.89 692.34,21.25 692.41,21.6 692.47,21.95 692.54,22.3 692.61,22.65 692.68,23 692.74,23.35 692.81,23.69 692.88,24.03 692.94,24.38 693.01,24.72 693.08,25.06 693.14,25.4 693.21,25.73 693.28,26.07 693.34,26.4 693.41,26.74 693.48,27.07 693.55,27.4 693.61,27.73 693.68,28.06 693.75,28.38 693.81,28.71 693.88,29.03 693.95,29.36 694.01,29.68 694.08,30 694.15,30.32 694.21,30.64 694.28,30.96 694.35,31.27 694.42,31.59 694.48,31.9 694.55,32.21 694.62,32.53 694.68,32.84 694.75,33.14 694.82,33.45 694.88,33.76 694.95,34.07 695.02,34.37 695.08,34.67 695.15,34.98 695.22,35.28 695.29,35.58 695.35,35.87 695.42,36.17 695.49,36.47 695.55,36.76 695.62,37.06 695.69,37.35 695.75,37.64 695.82,37.94 695.89,38.22 695.95,38.51 696.02,38.8 696.09,39.09 696.16,39.37 696.22,39.66 696.29,39.94 696.36,40.22 696.42,40.51 696.49,40.79 696.56,41.06 696.62,41.34 696.69,41.62 696.76,41.9 696.82,42.17 696.89,42.44 696.96,42.72 697.03,42.99 697.09,43.26 697.16,43.53 697.23,43.8 697.29,44.07 697.36,44.33 697.43,44.6 697.49,44.86 697.56,45.13 697.63,45.39 697.69,45.65 697.76,45.91 697.83,46.17 697.9,46.43 697.96,46.69 698.03,46.95 698.1,47.2 698.16,47.46 698.23,47.71 698.3,47.96 698.36,48.22 698.43,48.47 698.5,48.72 698.56,48.97 698.63,49.22 698.7,49.46 698.77,49.71 698.83,49.96 698.9,50.2 698.97,50.44 699.03,50.69 699.1,50.93 699.17,51.17 699.23,51.41 699.3,51.65 699.37,51.89 699.43,52.12 699.5,52.36 699.57,52.6 699.64,52.83 699.7,53.06 699.77,53.3 699.84,53.53 699.9,53.76 699.97,53.99 700.04,54.22 700.1,54.45 700.17,54.68 700.24,54.9 700.3,55.13 700.37,55.35 700.44,55.58 700.51,55.8 700.57,56.02 700.64,56.25 700.71,56.47 700.77,56.69 700.84,56.91 700.91,57.12 700.97,57.34 701.04,57.56 701.11,57.78 701.17,57.99 701.24,58.2 701.31,58.42 701.38,58.63 701.44,58.84 701.51,59.05 701.58,59.26 701.64,59.47 701.71,59.68 701.78,59.89 701.84,60.1 701.91,60.3 701.98,60.51 702.04,60.71 702.11,60.92 702.18,61.12 702.25,61.32 702.31,61.53 702.38,61.73 702.45,61.93 702.51,62.13 702.58,62.33 702.65,62.52 702.71,62.72 702.78,62.92 702.85,63.11 702.91,63.31 702.98,63.5 703.05,63.7 703.12,63.89 703.18,64.08 703.25,64.27 703.32,64.46 703.38,64.65 703.45,64.84 703.52,65.03 703.58,65.22 703.65,65.41 703.72,65.59 703.78,65.78 704.62,68.04 705.46,70.2 706.29,72.26 707.13,74.22 707.97,76.1 708.8,77.89 709.64,79.59 710.48,81.22 711.31,82.77 712.15,84.25 712.99,85.66 713.82,87.01 714.66,88.3 715.5,89.52 716.33,90.69 717.17,91.81 718.01,92.87 718.84,93.88 719.68,94.85 720.52,95.78 721.35,96.66 722.19,97.5 723.03,98.3 723.86,99.07 724.7,99.79 725.54,100.49 726.37,101.15 727.21,101.79 728.05,102.39 728.88,102.97 729.72,103.52 730.55,104.04 731.39,104.54 732.23,105.02 733.06,105.48 733.9,105.91 734.74,106.32 735.57,106.72 736.41,107.1 737.25,107.46 738.08,107.8 738.92,108.13 739.76,108.44 740.59,108.74 741.43,109.02 742.27,109.29 743.1,109.55 743.94,109.8 744.78,110.03 745.61,110.25 746.45,110.47 747.29,110.67 748.12,110.87 748.96,111.05 749.8,111.23 750.63,111.4 751.47,111.56 752.31,111.72 753.14,111.86 753.98,112 754.82,112.14 755.65,112.26 756.49,112.38 757.32,112.5 758.16,112.61 759,112.72 759.83,112.82 760.67,112.91 761.51,113 762.34,113.09 763.18,113.17 764.02,113.25 764.85,113.33 765.69,113.4 766.53,113.47 767.36,113.54 768.2,113.6 769.04,113.66 769.87,113.72 770.71,113.77 771.55,113.82 772.38,113.87 773.22,113.92 774.06,113.97 774.89,114.01 775.73,114.05 776.57,114.09 777.4,114.13 778.24,114.16 779.08,114.2 779.91,114.23 780.75,114.26 781.59,114.29 782.42,114.32 783.26,114.34 784.1,114.37 784.93,114.39 785.77,114.42 786.6,114.44 787.44,114.46 788.28,114.48 789.11,114.5 789.95,114.52 790.79,114.54 791.62,114.55 792.46,114.57 793.3,114.58 794.13,114.6 794.97,114.61 795.81,114.63 796.64,114.64 797.48,114.65 798.32,114.66 799.15,114.67 799.99,114.68 800.83,114.69 801.66,114.7 802.5,114.71 803.34,114.72 804.17,114.73 805.01,114.74 805.85,114.74 806.68,114.75 807.52,114.76 808.36,114.76 809.19,114.77 810.03,114.78 810.87,114.78 811.7,114.79 812.54,114.79 813.37,114.8 814.21,114.8 815.05,114.81 815.88,114.81 816.72,114.82 817.56,114.82 818.39,114.82 819.23,114.83 820.07,114.83 820.9,114.83 821.74,114.84 822.58,114.84 823.41,114.84 824.25,114.84" fill="none" stroke="#8b0000" stroke-width="1.8" stroke-linejoin="round" clip-path="url(#c4)"/>
<line x1="690.4" y1="114.9" x2="824.25" y2="114.9" stroke="#000" stroke-width="1.8" stroke-dasharray="2.9 3.45" stroke-dashoffset="-1.15"/>
<path d="M690.4 23.55V124H824.25" fill="none" stroke="#000" stroke-width="1.05"/>
<path d="M690.4 124v-4.6M723.86 124v-4.6M757.32 124v-4.6M790.79 124v-4.6M824.25 124v-4.6M690.4 114.9h4.6M690.4 103.48h4.6M690.4 92.06h4.6M690.4 80.64h4.6M690.4 69.22h4.6M690.4 57.81h4.6M690.4 46.39h4.6M690.4 34.97h4.6M690.4 23.55h4.6" fill="none" stroke="#000" stroke-width="1.0"/>
<text x="692" y="136.3" font-size="11.3" text-anchor="middle" fill="#000">0</text>
<text x="725.46" y="136.3" font-size="11.3" text-anchor="middle" fill="#000">2</text>
<text x="758.92" y="136.3" font-size="11.3" text-anchor="middle" fill="#000">4</text>
<text x="792.39" y="136.3" font-size="11.3" text-anchor="middle" fill="#000">6</text>
<text x="825.85" y="136.3" font-size="11.3" text-anchor="middle" fill="#000">8</text>
<text x="687.2" y="117.95" font-size="11.3" text-anchor="end" fill="#000">0</text>
<text x="687.2" y="106.53" font-size="11.3" text-anchor="end" fill="#000">1</text>
<text x="687.2" y="95.11" font-size="11.3" text-anchor="end" fill="#000">2</text>
<text x="687.2" y="83.69" font-size="11.3" text-anchor="end" fill="#000">3</text>
<text x="687.2" y="72.27" font-size="11.3" text-anchor="end" fill="#000">4</text>
<text x="687.2" y="60.86" font-size="11.3" text-anchor="end" fill="#000">5</text>
<text x="687.2" y="49.44" font-size="11.3" text-anchor="end" fill="#000">6</text>
<text x="687.2" y="38.02" font-size="11.3" text-anchor="end" fill="#000">7</text>
<text x="687.2" y="26.6" font-size="11.3" text-anchor="end" fill="#000">8</text>
<text x="820.95" y="33.35" font-size="11.25" text-anchor="end" fill="#000">exp(-<tspan font-style="italic">r</tspan>/1.06)</text>
<line x1="748.38" y1="30.15" x2="756.58" y2="30.15" stroke="#8b0000" stroke-width="1.65"/>
</g>
<g>
<clipPath id="c5"><rect x="49.45" y="166" width="141.85" height="100.9"/></clipPath>
<text x="120.38" y="159.4" font-size="13.2" text-anchor="middle" fill="#000">Concert 3</text>
<g><use href="#q" x="53.5" y="255.6"/><use href="#q" x="57" y="255.6"/><use href="#q" x="60.6" y="255.6"/><use href="#q" x="64.2" y="255.6"/><use href="#q" x="67.7" y="257.2"/><use href="#q" x="71.3" y="257.2"/><use href="#q" x="74.9" y="257.2"/><use href="#q" x="78.4" y="257.2"/><use href="#q" x="82" y="257.2"/><use href="#q" x="85.6" y="257.2"/><use href="#q" x="89.1" y="257.2"/><use href="#q" x="92.7" y="257.2"/><use href="#q" x="96.3" y="257.2"/><use href="#q" x="99.9" y="257.2"/><use href="#q" x="103.4" y="262.2"/><use href="#q" x="107" y="262.2"/><use href="#q" x="110.6" y="262.2"/><use href="#q" x="114.1" y="262.2"/><use href="#q" x="117.7" y="262.2"/><use href="#q" x="121.3" y="262.2"/><use href="#q" x="124.8" y="262.2"/><use href="#q" x="128.4" y="262.2"/><use href="#q" x="132" y="260.3"/><use href="#q" x="135.5" y="260.3"/><use href="#q" x="139.1" y="260.3"/><use href="#q" x="142.7" y="260.3"/><use href="#q" x="146.3" y="260.3"/><use href="#q" x="149.8" y="260.3"/><use href="#q" x="153.4" y="260.3"/><use href="#q" x="157" y="260.3"/><use href="#q" x="160.5" y="260.3"/><use href="#q" x="164.1" y="260.3"/><use href="#q" x="167.7" y="260.3"/><use href="#q" x="171.2" y="259.1"/><use href="#q" x="174.8" y="259.1"/><use href="#q" x="178.4" y="259.1"/><use href="#q" x="181.9" y="259.1"/><use href="#q" x="185.5" y="259.1"/><use href="#o" x="53.5" y="178.3"/><use href="#o" x="57" y="178.3"/><use href="#o" x="60.6" y="178.3"/><use href="#o" x="64.2" y="178.3"/><use href="#o" x="67.7" y="253.1"/><use href="#o" x="71.3" y="253.1"/><use href="#o" x="74.9" y="253.1"/><use href="#o" x="78.4" y="253.1"/><use href="#o" x="82" y="253.1"/><use href="#o" x="85.6" y="253.1"/><use href="#o" x="89.1" y="253.1"/><use href="#o" x="92.7" y="253.1"/><use href="#o" x="96.3" y="253.1"/><use href="#o" x="99.9" y="253.1"/><use href="#o" x="103.4" y="258.6"/><use href="#o" x="107" y="258.7"/><use href="#o" x="110.6" y="258.9"/><use href="#o" x="114.1" y="259"/><use href="#o" x="117.7" y="259.2"/><use href="#o" x="121.3" y="259.3"/><use href="#o" x="124.8" y="259.5"/><use href="#o" x="128.4" y="259.6"/><use href="#o" x="132" y="259.8"/><use href="#o" x="135.5" y="259.8"/><use href="#o" x="139.1" y="259.8"/><use href="#o" x="142.7" y="259.8"/><use href="#o" x="146.3" y="259.8"/><use href="#o" x="149.8" y="259.8"/><use href="#o" x="153.4" y="259.8"/><use href="#o" x="157" y="259.8"/><use href="#o" x="160.5" y="259.8"/><use href="#o" x="164.1" y="259.8"/><use href="#o" x="167.7" y="259.8"/><use href="#o" x="171.2" y="260.2"/><use href="#o" x="174.8" y="260.2"/><use href="#o" x="178.4" y="260.2"/><use href="#o" x="181.9" y="260.2"/><use href="#o" x="185.5" y="260.2"/></g>
<polyline points="53.45,147.8 53.52,148.37 53.58,148.93 53.65,149.49 53.72,150.05 53.78,150.61 53.85,151.16 53.92,151.71 53.99,152.26 54.05,152.8 54.12,153.34 54.19,153.88 54.25,154.42 54.32,154.95 54.39,155.48 54.45,156.01 54.52,156.54 54.59,157.06 54.65,157.58 54.72,158.1 54.79,158.61 54.86,159.13 54.92,159.64 54.99,160.14 55.06,160.65 55.12,161.15 55.19,161.65 55.26,162.15 55.32,162.64 55.39,163.13 55.46,163.62 55.52,164.11 55.59,164.6 55.66,165.08 55.73,165.56 55.79,166.04 55.86,166.51 55.93,166.98 55.99,167.45 56.06,167.92 56.13,168.39 56.19,168.85 56.26,169.31 56.33,169.77 56.39,170.22 56.46,170.68 56.53,171.13 56.6,171.58 56.66,172.03 56.73,172.47 56.8,172.91 56.86,173.35 56.93,173.79 57,174.23 57.06,174.66 57.13,175.09 57.2,175.52 57.26,175.95 57.33,176.37 57.4,176.8 57.47,177.22 57.53,177.63 57.6,178.05 57.67,178.47 57.73,178.88 57.8,179.29 57.87,179.7 57.93,180.1 58,180.51 58.07,180.91 58.13,181.31 58.2,181.7 58.27,182.1 58.34,182.49 58.4,182.89 58.47,183.28 58.54,183.66 58.6,184.05 58.67,184.43 58.74,184.82 58.8,185.2 58.87,185.57 58.94,185.95 59,186.32 59.07,186.7 59.14,187.07 59.21,187.44 59.27,187.8 59.34,188.17 59.41,188.53 59.47,188.89 59.54,189.25 59.61,189.61 59.67,189.96 59.74,190.32 59.81,190.67 59.87,191.02 59.94,191.37 60.01,191.72 60.08,192.06 60.14,192.41 60.21,192.75 60.28,193.09 60.34,193.43 60.41,193.76 60.48,194.1 60.54,194.43 60.61,194.76 60.68,195.09 60.74,195.42 60.81,195.75 60.88,196.07 60.95,196.39 61.01,196.72 61.08,197.03 61.15,197.35 61.21,197.67 61.28,197.98 61.35,198.3 61.41,198.61 61.48,198.92 61.55,199.23 61.61,199.54 61.68,199.84 61.75,200.15 61.82,200.45 61.88,200.75 61.95,201.05 62.02,201.35 62.08,201.64 62.15,201.94 62.22,202.23 62.28,202.52 62.35,202.81 62.42,203.1 62.48,203.39 62.55,203.68 62.62,203.96 62.69,204.25 62.75,204.53 62.82,204.81 62.89,205.09 62.95,205.36 63.02,205.64 63.09,205.92 63.15,206.19 63.22,206.46 63.29,206.73 63.35,207 63.42,207.27 63.49,207.53 63.56,207.8 63.62,208.06 63.69,208.33 63.76,208.59 63.82,208.85 63.89,209.11 63.96,209.36 64.02,209.62 64.09,209.87 64.16,210.13 64.22,210.38 64.29,210.63 64.36,210.88 64.43,211.13 64.49,211.38 64.56,211.62 64.63,211.87 64.69,212.11 64.76,212.35 64.83,212.59 64.89,212.83 64.96,213.07 65.03,213.31 65.09,213.54 65.16,213.78 65.23,214.01 65.3,214.24 65.36,214.48 65.43,214.71 65.5,214.93 65.56,215.16 65.63,215.39 65.7,215.61 65.76,215.84 65.83,216.06 65.9,216.28 65.96,216.5 66.03,216.72 66.1,216.94 66.17,217.16 66.23,217.38 66.3,217.59 66.37,217.81 66.43,218.02 66.5,218.23 66.57,218.44 66.63,218.65 66.7,218.86 66.77,219.07 66.84,219.28 67.67,221.78 68.51,224.12 69.34,226.33 70.18,228.39 71.02,230.33 71.85,232.15 72.69,233.86 73.53,235.47 74.36,236.97 75.2,238.39 76.04,239.71 76.87,240.96 77.71,242.13 78.55,243.22 79.38,244.25 80.22,245.22 81.06,246.13 81.89,246.98 82.73,247.78 83.57,248.53 84.4,249.23 85.24,249.89 86.08,250.51 86.91,251.1 87.75,251.64 88.59,252.16 89.42,252.64 90.26,253.09 91.1,253.51 91.93,253.91 92.77,254.29 93.61,254.64 94.44,254.97 95.28,255.27 96.11,255.56 96.95,255.84 97.79,256.09 98.62,256.33 99.46,256.56 100.3,256.77 101.13,256.97 101.97,257.15 102.81,257.33 103.64,257.49 104.48,257.65 105.32,257.79 106.15,257.93 106.99,258.05 107.83,258.17 108.66,258.28 109.5,258.39 110.34,258.49 111.17,258.58 112.01,258.67 112.85,258.75 113.68,258.83 114.52,258.9 115.36,258.97 116.19,259.03 117.03,259.09 117.87,259.15 118.7,259.2 119.54,259.25 120.38,259.29 121.21,259.34 122.05,259.38 122.88,259.42 123.72,259.45 124.56,259.49 125.39,259.52 126.23,259.55 127.07,259.57 127.9,259.6 128.74,259.62 129.58,259.65 130.41,259.67 131.25,259.69 132.09,259.71 132.92,259.73 133.76,259.74 134.6,259.76 135.43,259.77 136.27,259.79 137.11,259.8 137.94,259.81 138.78,259.82 139.62,259.84 140.45,259.85 141.29,259.85 142.13,259.86 142.96,259.87 143.8,259.88 144.64,259.89 145.47,259.89 146.31,259.9 147.15,259.91 147.98,259.91 148.82,259.92 149.65,259.92 150.49,259.93 151.33,259.93 152.16,259.94 153,259.94 153.84,259.94 154.67,259.95 155.51,259.95 156.35,259.95 157.18,259.96 158.02,259.96 158.86,259.96 159.69,259.96 160.53,259.97 161.37,259.97 162.2,259.97 163.04,259.97 163.88,259.97 164.71,259.98 165.55,259.98 166.39,259.98 167.22,259.98 168.06,259.98 168.9,259.98 169.73,259.98 170.57,259.98 171.41,259.99 172.24,259.99 173.08,259.99 173.92,259.99 174.75,259.99 175.59,259.99 176.42,259.99 177.26,259.99 178.1,259.99 178.93,259.99 179.77,259.99 180.61,259.99 181.44,259.99 182.28,259.99 183.12,259.99 183.95,259.99 184.79,259.99 185.63,259.99 186.46,260 187.3,260" fill="none" stroke="#8b0000" stroke-width="1.8" stroke-linejoin="round" clip-path="url(#c5)"/>
<line x1="53.45" y1="260" x2="187.3" y2="260" stroke="#000" stroke-width="1.8" stroke-dasharray="2.9 3.45" stroke-dashoffset="-1.15"/>
<path d="M53.45 166.5V266.4H187.3" fill="none" stroke="#000" stroke-width="1.05"/>
<path d="M53.45 266.4v-4.6M98.07 266.4v-4.6M142.68 266.4v-4.6M187.3 266.4v-4.6M53.45 260h4.6M53.45 244.42h4.6M53.45 228.83h4.6M53.45 213.25h4.6M53.45 197.67h4.6M53.45 182.08h4.6M53.45 166.5h4.6" fill="none" stroke="#000" stroke-width="1.0"/>
<text x="55.05" y="278.7" font-size="11.3" text-anchor="middle" fill="#000">0</text>
<text x="99.67" y="278.7" font-size="11.3" text-anchor="middle" fill="#000">5</text>
<text x="144.28" y="278.7" font-size="11.3" text-anchor="middle" fill="#000">10</text>
<text x="188.9" y="278.7" font-size="11.3" text-anchor="middle" fill="#000">15</text>
<text x="50.25" y="263.05" font-size="11.3" text-anchor="end" fill="#000">0</text>
<text x="50.25" y="247.47" font-size="11.3" text-anchor="end" fill="#000">5</text>
<text x="50.25" y="231.88" font-size="11.3" text-anchor="end" fill="#000">10</text>
<text x="50.25" y="216.3" font-size="11.3" text-anchor="end" fill="#000">15</text>
<text x="50.25" y="200.72" font-size="11.3" text-anchor="end" fill="#000">20</text>
<text x="50.25" y="185.13" font-size="11.3" text-anchor="end" fill="#000">25</text>
<text x="50.25" y="169.55" font-size="11.3" text-anchor="end" fill="#000">30</text>
<text x="184" y="175.8" font-size="11.25" text-anchor="end" fill="#000">exp(-<tspan font-style="italic">r</tspan>/1.48)</text>
<line x1="111.43" y1="172.6" x2="119.63" y2="172.6" stroke="#8b0000" stroke-width="1.65"/>
</g>
<g>
<clipPath id="c6"><rect x="208.6" y="166" width="141.85" height="100.9"/></clipPath>
<text x="279.52" y="159.4" font-size="13.2" text-anchor="middle" fill="#000">Concert 4</text>
<g><use href="#q" x="212.6" y="225.5"/><use href="#q" x="215.9" y="225.5"/><use href="#q" x="219.3" y="233.7"/><use href="#q" x="222.6" y="233.7"/><use href="#q" x="226" y="233.7"/><use href="#q" x="229.3" y="233.7"/><use href="#q" x="232.7" y="236"/><use href="#q" x="236" y="236"/><use href="#q" x="239.4" y="236"/><use href="#q" x="242.7" y="236"/><use href="#q" x="246.1" y="238.2"/><use href="#q" x="249.4" y="242.8"/><use href="#q" x="252.8" y="244.1"/><use href="#q" x="256.1" y="244.1"/><use href="#q" x="259.4" y="245.5"/><use href="#q" x="262.8" y="245.5"/><use href="#q" x="266.1" y="243.7"/><use href="#q" x="269.5" y="251.9"/><use href="#q" x="272.8" y="253.7"/><use href="#q" x="276.2" y="255.9"/><use href="#q" x="279.5" y="255.9"/><use href="#q" x="282.9" y="255.9"/><use href="#q" x="286.2" y="255.9"/><use href="#q" x="289.6" y="255.9"/><use href="#q" x="292.9" y="255.9"/><use href="#q" x="296.3" y="255.9"/><use href="#q" x="299.6" y="257.1"/><use href="#q" x="302.9" y="257.1"/><use href="#q" x="306.3" y="257.1"/><use href="#q" x="309.6" y="257.1"/><use href="#q" x="313" y="256.2"/><use href="#q" x="316.3" y="256.2"/><use href="#q" x="319.7" y="256.2"/><use href="#q" x="323" y="256.2"/><use href="#q" x="326.4" y="256.2"/><use href="#q" x="329.7" y="256.2"/><use href="#q" x="333.1" y="256.2"/><use href="#q" x="336.4" y="257.3"/><use href="#q" x="339.8" y="257.3"/><use href="#q" x="343.1" y="257.3"/><use href="#q" x="346.4" y="257.3"/><use href="#o" x="212.6" y="169.2"/><use href="#o" x="214.3" y="169.2"/><use href="#o" x="215.9" y="169.2"/><use href="#o" x="217.6" y="243.7"/><use href="#o" x="219.3" y="243.7"/><use href="#o" x="221" y="243.7"/><use href="#o" x="222.6" y="243.7"/><use href="#o" x="224.3" y="243.7"/><use href="#o" x="226" y="243.7"/><use href="#o" x="227.7" y="243.7"/><use href="#o" x="229.3" y="243.7"/><use href="#o" x="231" y="243.7"/><use href="#o" x="232.7" y="248.7"/><use href="#o" x="234.4" y="248.8"/><use href="#o" x="236" y="248.9"/><use href="#o" x="237.7" y="248.9"/><use href="#o" x="239.4" y="249"/><use href="#o" x="241" y="249.1"/><use href="#o" x="242.7" y="249.2"/><use href="#o" x="244.4" y="249.3"/><use href="#o" x="246.1" y="250.5"/><use href="#o" x="247.7" y="249.8"/><use href="#o" x="249.4" y="252.2"/><use href="#o" x="251.1" y="251.5"/><use href="#o" x="252.8" y="253.9"/><use href="#o" x="254.4" y="253.3"/><use href="#o" x="256.1" y="255.7"/><use href="#o" x="257.8" y="255"/><use href="#o" x="259.4" y="257.4"/><use href="#o" x="261.1" y="256.7"/><use href="#o" x="262.8" y="259.1"/><use href="#o" x="264.5" y="256.4"/><use href="#o" x="266.1" y="259.1"/><use href="#o" x="267.8" y="259.1"/><use href="#o" x="269.5" y="259.1"/><use href="#o" x="271.2" y="259.1"/><use href="#o" x="272.8" y="259.1"/><use href="#o" x="274.5" y="259.1"/><use href="#o" x="276.2" y="259.1"/><use href="#o" x="277.9" y="259.1"/><use href="#o" x="279.5" y="259.1"/><use href="#o" x="281.2" y="259.1"/><use href="#o" x="282.9" y="259.1"/><use href="#o" x="284.5" y="259.1"/><use href="#o" x="286.2" y="259.1"/><use href="#o" x="287.9" y="259.1"/><use href="#o" x="289.6" y="258.4"/><use href="#o" x="291.2" y="258.4"/><use href="#o" x="292.9" y="258.4"/><use href="#o" x="294.6" y="258.4"/><use href="#o" x="296.3" y="258.4"/><use href="#o" x="297.9" y="258.4"/><use href="#o" x="299.6" y="258.4"/><use href="#o" x="301.3" y="258.4"/><use href="#o" x="302.9" y="258.4"/><use href="#o" x="304.6" y="258.4"/><use href="#o" x="306.3" y="258.4"/><use href="#o" x="308" y="258.4"/><use href="#o" x="309.6" y="258.4"/><use href="#o" x="311.3" y="258.4"/><use href="#o" x="313" y="258.4"/><use href="#o" x="314.7" y="257.8"/><use href="#o" x="316.3" y="257.8"/><use href="#o" x="318" y="257.8"/><use href="#o" x="319.7" y="257.8"/><use href="#o" x="321.4" y="257.8"/><use href="#o" x="323" y="257.7"/><use href="#o" x="324.7" y="257.7"/><use href="#o" x="326.4" y="257.7"/><use href="#o" x="328" y="257.7"/><use href="#o" x="329.7" y="257.7"/><use href="#o" x="331.4" y="257.6"/><use href="#o" x="333.1" y="257.6"/><use href="#o" x="334.7" y="257.6"/><use href="#o" x="336.4" y="257.6"/><use href="#o" x="338.1" y="257.6"/><use href="#o" x="339.8" y="257.6"/><use href="#o" x="341.4" y="257.5"/><use href="#o" x="343.1" y="257.5"/><use href="#o" x="344.8" y="257.5"/><use href="#o" x="346.4" y="257.5"/></g>
<polyline points="212.6,161.96 212.67,163.04 212.73,164.11 212.8,165.17 212.87,166.22 212.93,167.26 213,168.28 213.07,169.29 213.14,170.29 213.2,171.28 213.27,172.26 213.34,173.22 213.4,174.18 213.47,175.12 213.54,176.06 213.6,176.98 213.67,177.89 213.74,178.79 213.8,179.69 213.87,180.57 213.94,181.44 214.01,182.3 214.07,183.16 214.14,184 214.21,184.83 214.27,185.65 214.34,186.47 214.41,187.27 214.47,188.07 214.54,188.86 214.61,189.63 214.67,190.4 214.74,191.16 214.81,191.91 214.88,192.66 214.94,193.39 215.01,194.12 215.08,194.84 215.14,195.55 215.21,196.25 215.28,196.94 215.34,197.63 215.41,198.31 215.48,198.98 215.54,199.64 215.61,200.29 215.68,200.94 215.75,201.58 215.81,202.21 215.88,202.84 215.95,203.46 216.01,204.07 216.08,204.68 216.15,205.27 216.21,205.87 216.28,206.45 216.35,207.03 216.41,207.6 216.48,208.16 216.55,208.72 216.62,209.27 216.68,209.82 216.75,210.36 216.82,210.89 216.88,211.42 216.95,211.94 217.02,212.46 217.08,212.97 217.15,213.47 217.22,213.97 217.28,214.46 217.35,214.95 217.42,215.43 217.49,215.9 217.55,216.38 217.62,216.84 217.69,217.3 217.75,217.75 217.82,218.2 217.89,218.65 217.95,219.09 218.02,219.52 218.09,219.95 218.15,220.38 218.22,220.79 218.29,221.21 218.36,221.62 218.42,222.03 218.49,222.43 218.56,222.82 218.62,223.21 218.69,223.6 218.76,223.98 218.82,224.36 218.89,224.74 218.96,225.11 219.02,225.47 219.09,225.83 219.16,226.19 219.23,226.55 219.29,226.9 219.36,227.24 219.43,227.58 219.49,227.92 219.56,228.25 219.63,228.58 219.69,228.91 219.76,229.23 219.83,229.55 219.89,229.87 219.96,230.18 220.03,230.49 220.1,230.79 220.16,231.09 220.23,231.39 220.3,231.69 220.36,231.98 220.43,232.26 220.5,232.55 220.56,232.83 220.63,233.11 220.7,233.38 220.76,233.65 220.83,233.92 220.9,234.19 220.97,234.45 221.03,234.71 221.1,234.97 221.17,235.22 221.23,235.47 221.3,235.72 221.37,235.97 221.43,236.21 221.5,236.45 221.57,236.68 221.63,236.92 221.7,237.15 221.77,237.38 221.84,237.61 221.9,237.83 221.97,238.05 222.04,238.27 222.1,238.49 222.17,238.7 222.24,238.91 222.3,239.12 222.37,239.33 222.44,239.53 222.5,239.73 222.57,239.93 222.64,240.13 222.71,240.33 222.77,240.52 222.84,240.71 222.91,240.9 222.97,241.08 223.04,241.27 223.11,241.45 223.17,241.63 223.24,241.81 223.31,241.98 223.37,242.16 223.44,242.33 223.51,242.5 223.58,242.67 223.64,242.83 223.71,243 223.78,243.16 223.84,243.32 223.91,243.48 223.98,243.64 224.04,243.79 224.11,243.95 224.18,244.1 224.24,244.25 224.31,244.4 224.38,244.54 224.45,244.69 224.51,244.83 224.58,244.97 224.65,245.11 224.71,245.25 224.78,245.39 224.85,245.52 224.91,245.66 224.98,245.79 225.05,245.92 225.11,246.05 225.18,246.18 225.25,246.3 225.32,246.43 225.38,246.55 225.45,246.68 225.52,246.8 225.58,246.92 225.65,247.03 225.72,247.15 225.78,247.27 225.85,247.38 225.92,247.49 225.98,247.6 226.82,248.89 227.66,250.01 228.49,250.98 229.33,251.82 230.17,252.55 231,253.19 231.84,253.73 232.68,254.21 233.51,254.62 234.35,254.98 235.19,255.29 236.02,255.55 236.86,255.79 237.7,255.99 238.53,256.16 239.37,256.31 240.21,256.45 241.04,256.56 241.88,256.66 242.72,256.74 243.55,256.82 244.39,256.88 245.23,256.94 246.06,256.99 246.9,257.03 247.74,257.06 248.57,257.1 249.41,257.12 250.25,257.15 251.08,257.17 251.92,257.18 252.75,257.2 253.59,257.21 254.43,257.22 255.26,257.23 256.1,257.24 256.94,257.25 257.77,257.26 258.61,257.26 259.45,257.27 260.28,257.27 261.12,257.28 261.96,257.28 262.79,257.28 263.63,257.28 264.47,257.29 265.3,257.29 266.14,257.29 266.98,257.29 267.81,257.29 268.65,257.29 269.49,257.29 270.32,257.3 271.16,257.3 272,257.3 272.83,257.3 273.67,257.3 274.51,257.3 275.34,257.3 276.18,257.3 277.02,257.3 277.85,257.3 278.69,257.3 279.52,257.3 280.36,257.3 281.2,257.3 282.03,257.3 282.87,257.3 283.71,257.3 284.54,257.3 285.38,257.3 286.22,257.3 287.05,257.3 287.89,257.3 288.73,257.3 289.56,257.3 290.4,257.3 291.24,257.3 292.07,257.3 292.91,257.3 293.75,257.3 294.58,257.3 295.42,257.3 296.26,257.3 297.09,257.3 297.93,257.3 298.77,257.3 299.6,257.3 300.44,257.3 301.28,257.3 302.11,257.3 302.95,257.3 303.79,257.3 304.62,257.3 305.46,257.3 306.29,257.3 307.13,257.3 307.97,257.3 308.8,257.3 309.64,257.3 310.48,257.3 311.31,257.3 312.15,257.3 312.99,257.3 313.82,257.3 314.66,257.3 315.5,257.3 316.33,257.3 317.17,257.3 318.01,257.3 318.84,257.3 319.68,257.3 320.52,257.3 321.35,257.3 322.19,257.3 323.03,257.3 323.86,257.3 324.7,257.3 325.54,257.3 326.37,257.3 327.21,257.3 328.05,257.3 328.88,257.3 329.72,257.3 330.56,257.3 331.39,257.3 332.23,257.3 333.06,257.3 333.9,257.3 334.74,257.3 335.57,257.3 336.41,257.3 337.25,257.3 338.08,257.3 338.92,257.3 339.76,257.3 340.59,257.3 341.43,257.3 342.27,257.3 343.1,257.3 343.94,257.3 344.78,257.3 345.61,257.3 346.45,257.3" fill="none" stroke="#8b0000" stroke-width="1.8" stroke-linejoin="round" clip-path="url(#c6)"/>
<line x1="212.6" y1="257.3" x2="346.45" y2="257.3" stroke="#000" stroke-width="1.8" stroke-dasharray="2.9 3.45" stroke-dashoffset="-1.15"/>
<path d="M212.6 166.5V266.4H346.45" fill="none" stroke="#000" stroke-width="1.05"/>
<path d="M212.6 266.4v-4.6M246.06 266.4v-4.6M279.52 266.4v-4.6M312.99 266.4v-4.6M346.45 266.4v-4.6M212.6 257.3h4.6M212.6 239.14h4.6M212.6 220.98h4.6M212.6 202.82h4.6M212.6 184.66h4.6M212.6 166.5h4.6" fill="none" stroke="#000" stroke-width="1.0"/>
<text x="214.2" y="278.7" font-size="11.3" text-anchor="middle" fill="#000">0</text>
<text x="247.66" y="278.7" font-size="11.3" text-anchor="middle" fill="#000">2</text>
<text x="281.12" y="278.7" font-size="11.3" text-anchor="middle" fill="#000">4</text>
<text x="314.59" y="278.7" font-size="11.3" text-anchor="middle" fill="#000">6</text>
<text x="348.05" y="278.7" font-size="11.3" text-anchor="middle" fill="#000">8</text>
<text x="209.4" y="260.35" font-size="11.3" text-anchor="end" fill="#000">0</text>
<text x="209.4" y="242.19" font-size="11.3" text-anchor="end" fill="#000">2</text>
<text x="209.4" y="224.03" font-size="11.3" text-anchor="end" fill="#000">4</text>
<text x="209.4" y="205.87" font-size="11.3" text-anchor="end" fill="#000">6</text>
<text x="209.4" y="187.71" font-size="11.3" text-anchor="end" fill="#000">8</text>
<text x="209.4" y="169.55" font-size="11.3" text-anchor="end" fill="#000">10</text>
<text x="343.15" y="175.8" font-size="11.25" text-anchor="end" fill="#000">exp(-<tspan font-style="italic">r</tspan>/0.35)</text>
<line x1="270.58" y1="172.6" x2="278.78" y2="172.6" stroke="#8b0000" stroke-width="1.65"/>
</g>
<g>
<clipPath id="c7"><rect x="367.7" y="166" width="141.85" height="100.9"/></clipPath>
<text x="438.62" y="159.4" font-size="13.2" text-anchor="middle" fill="#000">Festival 2</text>
<g><use href="#q" x="373" y="253.4"/><use href="#q" x="375.8" y="253.4"/><use href="#q" x="378.5" y="253.4"/><use href="#q" x="381.2" y="253.4"/><use href="#q" x="384" y="255.9"/><use href="#q" x="386.7" y="255.9"/><use href="#q" x="389.4" y="255.9"/><use href="#q" x="392.2" y="255.9"/><use href="#q" x="394.9" y="255.9"/><use href="#q" x="397.6" y="255.9"/><use href="#q" x="400.3" y="255.9"/><use href="#q" x="403.1" y="255.9"/><use href="#q" x="405.8" y="255.9"/><use href="#q" x="408.5" y="255.9"/><use href="#q" x="411.3" y="255.9"/><use href="#q" x="414" y="255.9"/><use href="#q" x="416.7" y="255.9"/><use href="#q" x="419.5" y="258.2"/><use href="#q" x="422.2" y="258.2"/><use href="#q" x="424.9" y="258.2"/><use href="#q" x="427.6" y="258.2"/><use href="#q" x="430.4" y="258.2"/><use href="#q" x="433.1" y="258.2"/><use href="#q" x="435.8" y="258.2"/><use href="#q" x="438.6" y="258.2"/><use href="#q" x="441.3" y="258.2"/><use href="#q" x="444" y="258.2"/><use href="#q" x="446.8" y="258.2"/><use href="#q" x="449.5" y="258.2"/><use href="#q" x="452.2" y="257.3"/><use href="#q" x="455" y="257.3"/><use href="#q" x="457.7" y="257.3"/><use href="#q" x="460.4" y="257.3"/><use href="#q" x="463.1" y="257.3"/><use href="#q" x="465.9" y="257.3"/><use href="#q" x="468.6" y="257.3"/><use href="#q" x="471.3" y="257.3"/><use href="#q" x="474.1" y="257.3"/><use href="#q" x="476.8" y="257.3"/><use href="#q" x="479.5" y="257.3"/><use href="#q" x="482.3" y="257.3"/><use href="#q" x="485" y="257.3"/><use href="#q" x="487.7" y="254.6"/><use href="#q" x="490.5" y="254.6"/><use href="#q" x="493.2" y="254.6"/><use href="#q" x="495.9" y="254.6"/><use href="#q" x="498.6" y="258.2"/><use href="#q" x="501.4" y="258.2"/><use href="#q" x="504.1" y="258.2"/><use href="#o" x="371.7" y="174.7"/><use href="#o" x="374.4" y="174.7"/><use href="#o" x="377.2" y="174.7"/><use href="#o" x="379.9" y="174.7"/><use href="#o" x="382.6" y="245"/><use href="#o" x="385.4" y="245"/><use href="#o" x="388.1" y="245"/><use href="#o" x="390.8" y="245"/><use href="#o" x="393.5" y="245"/><use href="#o" x="396.3" y="245"/><use href="#o" x="399" y="245"/><use href="#o" x="401.7" y="245"/><use href="#o" x="404.5" y="245"/><use href="#o" x="407.2" y="245"/><use href="#o" x="409.9" y="245"/><use href="#o" x="412.7" y="245"/><use href="#o" x="415.4" y="245"/><use href="#o" x="418.1" y="245"/><use href="#o" x="420.8" y="245"/><use href="#o" x="423.6" y="245"/><use href="#o" x="426.3" y="245"/><use href="#o" x="429" y="245"/><use href="#o" x="431.8" y="245"/><use href="#o" x="434.5" y="245"/><use href="#o" x="437.2" y="245"/><use href="#o" x="440" y="245"/><use href="#o" x="442.7" y="245"/><use href="#o" x="445.4" y="245"/><use href="#o" x="448.2" y="249.1"/><use href="#o" x="450.9" y="249.1"/><use href="#o" x="453.6" y="254.3"/><use href="#o" x="456.3" y="254.3"/><use href="#o" x="459.1" y="254.3"/><use href="#o" x="461.8" y="254.3"/><use href="#o" x="464.5" y="254.3"/><use href="#o" x="467.3" y="254.3"/><use href="#o" x="470" y="254.3"/><use href="#o" x="472.7" y="254.3"/><use href="#o" x="475.5" y="254.3"/><use href="#o" x="478.2" y="255.7"/><use href="#o" x="480.9" y="255.7"/><use href="#o" x="483.7" y="255.7"/><use href="#o" x="486.4" y="255.7"/><use href="#o" x="489.1" y="255.7"/><use href="#o" x="491.8" y="255.7"/><use href="#o" x="494.6" y="255.7"/><use href="#o" x="497.3" y="257.8"/><use href="#o" x="500" y="257.8"/><use href="#o" x="502.8" y="257.8"/></g>
<polyline points="371.7,157.42 371.77,157.92 371.83,158.41 371.9,158.91 371.97,159.4 372.03,159.89 372.1,160.37 372.17,160.86 372.24,161.34 372.3,161.81 372.37,162.29 372.44,162.77 372.5,163.24 372.57,163.71 372.64,164.17 372.7,164.64 372.77,165.1 372.84,165.56 372.9,166.02 372.97,166.47 373.04,166.92 373.11,167.38 373.17,167.82 373.24,168.27 373.31,168.71 373.37,169.16 373.44,169.6 373.51,170.03 373.57,170.47 373.64,170.9 373.71,171.33 373.77,171.76 373.84,172.19 373.91,172.61 373.98,173.03 374.04,173.46 374.11,173.87 374.18,174.29 374.24,174.7 374.31,175.12 374.38,175.53 374.44,175.93 374.51,176.34 374.58,176.74 374.64,177.14 374.71,177.54 374.78,177.94 374.85,178.34 374.91,178.73 374.98,179.12 375.05,179.51 375.11,179.9 375.18,180.29 375.25,180.67 375.31,181.05 375.38,181.43 375.45,181.81 375.51,182.19 375.58,182.56 375.65,182.94 375.72,183.31 375.78,183.68 375.85,184.04 375.92,184.41 375.98,184.77 376.05,185.13 376.12,185.49 376.18,185.85 376.25,186.21 376.32,186.56 376.38,186.92 376.45,187.27 376.52,187.62 376.59,187.96 376.65,188.31 376.72,188.65 376.79,189 376.85,189.34 376.92,189.68 376.99,190.01 377.05,190.35 377.12,190.68 377.19,191.01 377.25,191.35 377.32,191.67 377.39,192 377.46,192.33 377.52,192.65 377.59,192.97 377.66,193.29 377.72,193.61 377.79,193.93 377.86,194.25 377.92,194.56 377.99,194.87 378.06,195.19 378.12,195.5 378.19,195.8 378.26,196.11 378.33,196.42 378.39,196.72 378.46,197.02 378.53,197.32 378.59,197.62 378.66,197.92 378.73,198.22 378.79,198.51 378.86,198.8 378.93,199.1 378.99,199.39 379.06,199.67 379.13,199.96 379.2,200.25 379.26,200.53 379.33,200.82 379.4,201.1 379.46,201.38 379.53,201.66 379.6,201.93 379.66,202.21 379.73,202.48 379.8,202.76 379.86,203.03 379.93,203.3 380,203.57 380.07,203.84 380.13,204.1 380.2,204.37 380.27,204.63 380.33,204.9 380.4,205.16 380.47,205.42 380.53,205.68 380.6,205.93 380.67,206.19 380.73,206.45 380.8,206.7 380.87,206.95 380.94,207.2 381,207.45 381.07,207.7 381.14,207.95 381.2,208.19 381.27,208.44 381.34,208.68 381.4,208.93 381.47,209.17 381.54,209.41 381.6,209.65 381.67,209.88 381.74,210.12 381.81,210.36 381.87,210.59 381.94,210.82 382.01,211.05 382.07,211.28 382.14,211.51 382.21,211.74 382.27,211.97 382.34,212.2 382.41,212.42 382.47,212.64 382.54,212.87 382.61,213.09 382.68,213.31 382.74,213.53 382.81,213.75 382.88,213.96 382.94,214.18 383.01,214.4 383.08,214.61 383.14,214.82 383.21,215.03 383.28,215.25 383.34,215.46 383.41,215.66 383.48,215.87 383.55,216.08 383.61,216.28 383.68,216.49 383.75,216.69 383.81,216.89 383.88,217.1 383.95,217.3 384.01,217.5 384.08,217.69 384.15,217.89 384.21,218.09 384.28,218.28 384.35,218.48 384.42,218.67 384.48,218.86 384.55,219.06 384.62,219.25 384.68,219.44 384.75,219.63 384.82,219.81 384.88,220 384.95,220.19 385.02,220.37 385.08,220.56 385.92,222.78 386.76,224.87 387.59,226.84 388.43,228.68 389.27,230.42 390.1,232.05 390.94,233.58 391.78,235.01 392.61,236.36 393.45,237.63 394.29,238.82 395.12,239.94 395.96,241 396.8,241.98 397.63,242.91 398.47,243.78 399.31,244.6 400.14,245.37 400.98,246.09 401.82,246.77 402.65,247.41 403.49,248.01 404.33,248.57 405.16,249.1 406,249.6 406.84,250.06 407.67,250.5 408.51,250.91 409.35,251.3 410.18,251.67 411.02,252.01 411.86,252.33 412.69,252.63 413.53,252.91 414.36,253.18 415.2,253.43 416.04,253.66 416.87,253.88 417.71,254.09 418.55,254.28 419.38,254.47 420.22,254.64 421.06,254.8 421.89,254.95 422.73,255.09 423.57,255.23 424.4,255.35 425.24,255.47 426.08,255.58 426.91,255.69 427.75,255.78 428.59,255.88 429.42,255.96 430.26,256.04 431.1,256.12 431.93,256.19 432.77,256.26 433.61,256.32 434.44,256.38 435.28,256.44 436.12,256.49 436.95,256.54 437.79,256.58 438.62,256.63 439.46,256.67 440.3,256.71 441.13,256.74 441.97,256.78 442.81,256.81 443.64,256.84 444.48,256.87 445.32,256.89 446.15,256.92 446.99,256.94 447.83,256.96 448.66,256.98 449.5,257 450.34,257.02 451.17,257.04 452.01,257.05 452.85,257.07 453.68,257.08 454.52,257.09 455.36,257.11 456.19,257.12 457.03,257.13 457.87,257.14 458.7,257.15 459.54,257.16 460.38,257.17 461.21,257.18 462.05,257.18 462.89,257.19 463.72,257.2 464.56,257.2 465.39,257.21 466.23,257.21 467.07,257.22 467.9,257.22 468.74,257.23 469.58,257.23 470.41,257.24 471.25,257.24 472.09,257.24 472.92,257.25 473.76,257.25 474.6,257.25 475.43,257.26 476.27,257.26 477.11,257.26 477.94,257.26 478.78,257.27 479.62,257.27 480.45,257.27 481.29,257.27 482.13,257.27 482.96,257.28 483.8,257.28 484.64,257.28 485.47,257.28 486.31,257.28 487.15,257.28 487.98,257.28 488.82,257.28 489.66,257.29 490.49,257.29 491.33,257.29 492.16,257.29 493,257.29 493.84,257.29 494.67,257.29 495.51,257.29 496.35,257.29 497.18,257.29 498.02,257.29 498.86,257.29 499.69,257.29 500.53,257.29 501.37,257.29 502.2,257.29 503.04,257.29 503.88,257.29 504.71,257.3 505.55,257.3" fill="none" stroke="#8b0000" stroke-width="1.8" stroke-linejoin="round" clip-path="url(#c7)"/>
<line x1="371.7" y1="257.3" x2="505.55" y2="257.3" stroke="#000" stroke-width="1.8" stroke-dasharray="2.9 3.45" stroke-dashoffset="-1.15"/>
<path d="M371.7 166.5V266.4H505.55" fill="none" stroke="#000" stroke-width="1.05"/>
<path d="M371.7 266.4v-4.6M398.47 266.4v-4.6M425.24 266.4v-4.6M452.01 266.4v-4.6M478.78 266.4v-4.6M505.55 266.4v-4.6M371.7 257.3h4.6M371.7 234.6h4.6M371.7 211.9h4.6M371.7 189.2h4.6M371.7 166.5h4.6" fill="none" stroke="#000" stroke-width="1.0"/>
<text x="373.3" y="278.7" font-size="11.3" text-anchor="middle" fill="#000">0</text>
<text x="400.07" y="278.7" font-size="11.3" text-anchor="middle" fill="#000">1</text>
<text x="426.84" y="278.7" font-size="11.3" text-anchor="middle" fill="#000">2</text>
<text x="453.61" y="278.7" font-size="11.3" text-anchor="middle" fill="#000">3</text>
<text x="480.38" y="278.7" font-size="11.3" text-anchor="middle" fill="#000">4</text>
<text x="507.15" y="278.7" font-size="11.3" text-anchor="middle" fill="#000">5</text>
<text x="368.5" y="260.35" font-size="11.3" text-anchor="end" fill="#000">0</text>
<text x="368.5" y="237.65" font-size="11.3" text-anchor="end" fill="#000">0.5</text>
<text x="368.5" y="214.95" font-size="11.3" text-anchor="end" fill="#000">1</text>
<text x="368.5" y="192.25" font-size="11.3" text-anchor="end" fill="#000">1.5</text>
<text x="368.5" y="169.55" font-size="11.3" text-anchor="end" fill="#000">2</text>
<text x="502.25" y="175.8" font-size="11.25" text-anchor="end" fill="#000">exp(-<tspan font-style="italic">r</tspan>/0.50)</text>
<line x1="429.68" y1="172.6" x2="437.88" y2="172.6" stroke="#8b0000" stroke-width="1.65"/>
</g>
<g>
<clipPath id="c8"><rect x="527" y="166" width="141.85" height="100.9"/></clipPath>
<text x="597.92" y="159.4" font-size="13.2" text-anchor="middle" fill="#000">Festival 3</text>
<g><use href="#q" x="531" y="228.7"/><use href="#q" x="534.7" y="228.7"/><use href="#q" x="539.7" y="247.7"/><use href="#q" x="543.4" y="247.7"/><use href="#q" x="547.1" y="247.7"/><use href="#q" x="550.7" y="247.7"/><use href="#q" x="554.4" y="247.7"/><use href="#q" x="560.4" y="257.9"/><use href="#q" x="564.1" y="257.9"/><use href="#q" x="567.8" y="257.9"/><use href="#q" x="571.5" y="257.9"/><use href="#q" x="575.2" y="257.9"/><use href="#q" x="578.9" y="257.9"/><use href="#q" x="582.5" y="257.9"/><use href="#q" x="586.2" y="257.9"/><use href="#q" x="589.9" y="257.9"/><use href="#q" x="593.6" y="257.9"/><use href="#q" x="597.3" y="257.9"/><use href="#q" x="600.9" y="257.9"/><use href="#q" x="604.6" y="257.9"/><use href="#q" x="608.3" y="260.6"/><use href="#q" x="612" y="263"/><use href="#q" x="615.7" y="263"/><use href="#q" x="619.3" y="263"/><use href="#q" x="623" y="263"/><use href="#q" x="626.7" y="263"/><use href="#q" x="630.4" y="263"/><use href="#q" x="634.1" y="263"/><use href="#q" x="637.7" y="263"/><use href="#q" x="641.4" y="263"/><use href="#q" x="645.1" y="263"/><use href="#q" x="648.8" y="263"/><use href="#q" x="652.5" y="263"/><use href="#q" x="656.1" y="263"/><use href="#q" x="659.8" y="263"/><use href="#q" x="663.5" y="263"/><use href="#o" x="531" y="181.8"/><use href="#o" x="534.7" y="181.8"/><use href="#o" x="538.4" y="181.8"/><use href="#o" x="542" y="229.2"/><use href="#o" x="545.7" y="229.2"/><use href="#o" x="549.4" y="229.2"/><use href="#o" x="553.1" y="231.6"/><use href="#o" x="556.8" y="236.8"/><use href="#o" x="560.4" y="257.4"/><use href="#o" x="564.1" y="257.4"/><use href="#o" x="567.8" y="257.4"/><use href="#o" x="571.5" y="257.4"/><use href="#o" x="575.2" y="257.4"/><use href="#o" x="578.9" y="257.4"/><use href="#o" x="582.5" y="257.4"/><use href="#o" x="586.2" y="257.4"/><use href="#o" x="589.9" y="257.4"/><use href="#o" x="593.6" y="257.4"/><use href="#o" x="597.3" y="257.4"/><use href="#o" x="600.9" y="257.4"/><use href="#o" x="604.6" y="257.4"/><use href="#o" x="608.3" y="263"/><use href="#o" x="612" y="263"/><use href="#o" x="615.7" y="263"/><use href="#o" x="619.3" y="263"/><use href="#o" x="623" y="263"/><use href="#o" x="626.7" y="263"/><use href="#o" x="630.4" y="263"/><use href="#o" x="634.1" y="263"/><use href="#o" x="637.7" y="263"/><use href="#o" x="641.4" y="263"/><use href="#o" x="645.1" y="263"/><use href="#o" x="648.8" y="263"/><use href="#o" x="652.5" y="263"/><use href="#o" x="656.1" y="263"/><use href="#o" x="659.8" y="263"/><use href="#o" x="663.5" y="263"/></g>
<polyline points="531,166.5 531.07,166.93 531.13,167.37 531.2,167.8 531.27,168.23 531.33,168.65 531.4,169.08 531.47,169.5 531.54,169.92 531.6,170.34 531.67,170.76 531.74,171.17 531.8,171.59 531.87,172 531.94,172.41 532,172.81 532.07,173.22 532.14,173.62 532.2,174.03 532.27,174.43 532.34,174.83 532.41,175.22 532.47,175.62 532.54,176.01 532.61,176.4 532.67,176.79 532.74,177.18 532.81,177.57 532.87,177.95 532.94,178.33 533.01,178.71 533.07,179.09 533.14,179.47 533.21,179.85 533.28,180.22 533.34,180.59 533.41,180.97 533.48,181.33 533.54,181.7 533.61,182.07 533.68,182.43 533.74,182.8 533.81,183.16 533.88,183.52 533.94,183.87 534.01,184.23 534.08,184.58 534.15,184.94 534.21,185.29 534.28,185.64 534.35,185.99 534.41,186.33 534.48,186.68 534.55,187.02 534.61,187.36 534.68,187.7 534.75,188.04 534.81,188.38 534.88,188.72 534.95,189.05 535.02,189.38 535.08,189.72 535.15,190.04 535.22,190.37 535.28,190.7 535.35,191.03 535.42,191.35 535.48,191.67 535.55,191.99 535.62,192.31 535.68,192.63 535.75,192.95 535.82,193.26 535.89,193.58 535.95,193.89 536.02,194.2 536.09,194.51 536.15,194.82 536.22,195.13 536.29,195.43 536.35,195.73 536.42,196.04 536.49,196.34 536.55,196.64 536.62,196.94 536.69,197.24 536.76,197.53 536.82,197.83 536.89,198.12 536.96,198.41 537.02,198.7 537.09,198.99 537.16,199.28 537.22,199.57 537.29,199.85 537.36,200.14 537.42,200.42 537.49,200.7 537.56,200.98 537.63,201.26 537.69,201.54 537.76,201.81 537.83,202.09 537.89,202.36 537.96,202.64 538.03,202.91 538.09,203.18 538.16,203.45 538.23,203.72 538.29,203.98 538.36,204.25 538.43,204.51 538.5,204.78 538.56,205.04 538.63,205.3 538.7,205.56 538.76,205.82 538.83,206.08 538.9,206.33 538.96,206.59 539.03,206.84 539.1,207.09 539.16,207.35 539.23,207.6 539.3,207.85 539.37,208.09 539.43,208.34 539.5,208.59 539.57,208.83 539.63,209.08 539.7,209.32 539.77,209.56 539.83,209.8 539.9,210.04 539.97,210.28 540.03,210.52 540.1,210.75 540.17,210.99 540.24,211.22 540.3,211.45 540.37,211.69 540.44,211.92 540.5,212.15 540.57,212.38 540.64,212.6 540.7,212.83 540.77,213.06 540.84,213.28 540.9,213.5 540.97,213.73 541.04,213.95 541.11,214.17 541.17,214.39 541.24,214.61 541.31,214.83 541.37,215.04 541.44,215.26 541.51,215.47 541.57,215.69 541.64,215.9 541.71,216.11 541.77,216.32 541.84,216.53 541.91,216.74 541.98,216.95 542.04,217.16 542.11,217.37 542.18,217.57 542.24,217.78 542.31,217.98 542.38,218.18 542.44,218.38 542.51,218.58 542.58,218.78 542.64,218.98 542.71,219.18 542.78,219.38 542.85,219.57 542.91,219.77 542.98,219.96 543.05,220.16 543.11,220.35 543.18,220.54 543.25,220.73 543.31,220.92 543.38,221.11 543.45,221.3 543.51,221.49 543.58,221.68 543.65,221.86 543.72,222.05 543.78,222.23 543.85,222.42 543.92,222.6 543.98,222.78 544.05,222.96 544.12,223.14 544.18,223.32 544.25,223.5 544.32,223.68 545.22,226 546.06,228.03 546.89,229.95 547.73,231.76 548.57,233.47 549.4,235.09 550.24,236.62 551.08,238.07 551.91,239.43 552.75,240.73 553.59,241.95 554.42,243.1 555.26,244.19 556.1,245.22 556.93,246.2 557.77,247.12 558.61,247.99 559.44,248.81 560.28,249.59 561.12,250.33 561.95,251.02 562.79,251.68 563.63,252.3 564.46,252.89 565.3,253.44 566.14,253.96 566.97,254.46 567.81,254.93 568.65,255.37 569.48,255.79 570.32,256.18 571.15,256.56 571.99,256.91 572.83,257.25 573.66,257.56 574.5,257.86 575.34,258.14 576.17,258.41 577.01,258.66 577.85,258.9 578.68,259.12 579.52,259.33 580.36,259.54 581.19,259.73 582.03,259.91 582.87,260.07 583.7,260.24 584.54,260.39 585.38,260.53 586.21,260.67 587.05,260.79 587.89,260.91 588.72,261.03 589.56,261.14 590.4,261.24 591.23,261.34 592.07,261.43 592.91,261.51 593.74,261.59 594.58,261.67 595.42,261.74 596.25,261.81 597.09,261.88 597.92,261.94 598.76,262 599.6,262.05 600.43,262.1 601.27,262.15 602.11,262.2 602.94,262.24 603.78,262.29 604.62,262.32 605.45,262.36 606.29,262.4 607.13,262.43 607.96,262.46 608.8,262.49 609.64,262.52 610.47,262.55 611.31,262.57 612.15,262.59 612.98,262.62 613.82,262.64 614.66,262.66 615.49,262.68 616.33,262.69 617.17,262.71 618,262.73 618.84,262.74 619.68,262.76 620.51,262.77 621.35,262.78 622.19,262.79 623.02,262.8 623.86,262.82 624.7,262.83 625.53,262.84 626.37,262.84 627.2,262.85 628.04,262.86 628.88,262.87 629.71,262.88 630.55,262.88 631.39,262.89 632.22,262.89 633.06,262.9 633.9,262.91 634.73,262.91 635.57,262.92 636.41,262.92 637.24,262.93 638.08,262.93 638.92,262.93 639.75,262.94 640.59,262.94 641.43,262.94 642.26,262.95 643.1,262.95 643.94,262.95 644.77,262.95 645.61,262.96 646.45,262.96 647.28,262.96 648.12,262.96 648.96,262.97 649.79,262.97 650.63,262.97 651.47,262.97 652.3,262.97 653.14,262.97 653.97,262.98 654.81,262.98 655.65,262.98 656.48,262.98 657.32,262.98 658.16,262.98 658.99,262.98 659.83,262.98 660.67,262.98 661.5,262.99 662.34,262.99 663.18,262.99 664.01,262.99 664.85,262.99" fill="none" stroke="#8b0000" stroke-width="1.8" stroke-linejoin="round" clip-path="url(#c8)"/>
<line x1="531" y1="263" x2="664.85" y2="263" stroke="#000" stroke-width="1.8" stroke-dasharray="2.9 3.45" stroke-dashoffset="-1.15"/>
<path d="M531 166.5V266.4H664.85" fill="none" stroke="#000" stroke-width="1.05"/>
<path d="M531 266.4v-4.6M564.46 266.4v-4.6M597.92 266.4v-4.6M631.39 266.4v-4.6M664.85 266.4v-4.6M531 263h4.6M531 246.92h4.6M531 230.83h4.6M531 214.75h4.6M531 198.67h4.6M531 182.58h4.6M531 166.5h4.6" fill="none" stroke="#000" stroke-width="1.0"/>
<text x="532.6" y="278.7" font-size="11.3" text-anchor="middle" fill="#000">0</text>
<text x="566.06" y="278.7" font-size="11.3" text-anchor="middle" fill="#000">3</text>
<text x="599.52" y="278.7" font-size="11.3" text-anchor="middle" fill="#000">6</text>
<text x="632.99" y="278.7" font-size="11.3" text-anchor="middle" fill="#000">9</text>
<text x="666.45" y="278.7" font-size="11.3" text-anchor="middle" fill="#000">12</text>
<text x="527.8" y="266.05" font-size="11.3" text-anchor="end" fill="#000">0</text>
<text x="527.8" y="249.97" font-size="11.3" text-anchor="end" fill="#000">10</text>
<text x="527.8" y="233.88" font-size="11.3" text-anchor="end" fill="#000">20</text>
<text x="527.8" y="217.8" font-size="11.3" text-anchor="end" fill="#000">30</text>
<text x="527.8" y="201.72" font-size="11.3" text-anchor="end" fill="#000">40</text>
<text x="527.8" y="185.63" font-size="11.3" text-anchor="end" fill="#000">50</text>
<text x="527.8" y="169.55" font-size="11.3" text-anchor="end" fill="#000">60</text>
<text x="661.55" y="175.8" font-size="11.25" text-anchor="end" fill="#000">exp(-<tspan font-style="italic">r</tspan>/1.33)</text>
<line x1="588.98" y1="172.6" x2="597.18" y2="172.6" stroke="#8b0000" stroke-width="1.65"/>
</g>
<g>
<clipPath id="c9"><rect x="686.4" y="166" width="141.85" height="100.9"/></clipPath>
<text x="757.32" y="159.4" font-size="13.2" text-anchor="middle" fill="#000">Festival 4</text>
<g><use href="#q" x="690.4" y="239.1"/><use href="#q" x="693.1" y="239.1"/><use href="#q" x="714.5" y="256.7"/><use href="#q" x="717.2" y="258.5"/><use href="#q" x="719.8" y="256.7"/><use href="#q" x="722.5" y="258.5"/><use href="#q" x="725.2" y="256.7"/><use href="#q" x="727.9" y="258.5"/><use href="#q" x="730.6" y="256.7"/><use href="#q" x="733.2" y="258.5"/><use href="#q" x="735.9" y="256.7"/><use href="#q" x="738.6" y="258.5"/><use href="#q" x="741.3" y="256.7"/><use href="#q" x="743.9" y="258.5"/><use href="#q" x="746.6" y="256.7"/><use href="#q" x="749.3" y="258.5"/><use href="#q" x="752" y="256.7"/><use href="#q" x="754.6" y="258.5"/><use href="#q" x="757.3" y="256.7"/><use href="#q" x="760" y="258.5"/><use href="#q" x="762.7" y="256.7"/><use href="#q" x="765.4" y="258.5"/><use href="#q" x="768" y="256.7"/><use href="#q" x="770.7" y="258.5"/><use href="#q" x="773.4" y="256.7"/><use href="#q" x="776.1" y="258.5"/><use href="#q" x="778.7" y="256.7"/><use href="#q" x="781.4" y="258.5"/><use href="#q" x="784.1" y="256.7"/><use href="#q" x="786.8" y="258.5"/><use href="#q" x="789.4" y="256.7"/><use href="#q" x="792.1" y="258.5"/><use href="#q" x="794.8" y="256.7"/><use href="#q" x="797.5" y="258.5"/><use href="#q" x="800.2" y="256.7"/><use href="#q" x="802.8" y="258.5"/><use href="#q" x="805.5" y="256.7"/><use href="#q" x="808.2" y="258.5"/><use href="#q" x="810.9" y="256.7"/><use href="#q" x="813.5" y="258.5"/><use href="#q" x="816.2" y="256.7"/><use href="#q" x="818.9" y="258.5"/><use href="#q" x="821.6" y="256.7"/><use href="#q" x="824.2" y="258.5"/><use href="#q" x="697.5" y="257.3"/><use href="#q" x="701.6" y="257"/><use href="#q" x="705.6" y="257"/><use href="#q" x="709.6" y="257.3"/><use href="#o" x="690.4" y="183.8"/><use href="#o" x="693.1" y="183.8"/><use href="#o" x="695.8" y="243.7"/><use href="#o" x="698.4" y="244.8"/><use href="#o" x="701.1" y="246"/><use href="#o" x="703.8" y="246.2"/><use href="#o" x="706.5" y="246.2"/><use href="#o" x="709.1" y="246.2"/><use href="#o" x="711.8" y="246.2"/><use href="#o" x="714.5" y="246.2"/><use href="#o" x="717.2" y="257.3"/><use href="#o" x="719.8" y="257.3"/><use href="#o" x="722.5" y="257.3"/><use href="#o" x="725.2" y="257.3"/><use href="#o" x="727.9" y="257.3"/><use href="#o" x="730.6" y="257.3"/><use href="#o" x="733.2" y="257.3"/><use href="#o" x="735.9" y="257.3"/><use href="#o" x="738.6" y="257.3"/><use href="#o" x="741.3" y="257.3"/><use href="#o" x="743.9" y="257.3"/><use href="#o" x="746.6" y="257.3"/><use href="#o" x="749.3" y="257.3"/><use href="#o" x="752" y="257.3"/><use href="#o" x="754.6" y="257.3"/><use href="#o" x="757.3" y="257.3"/><use href="#o" x="760" y="257.3"/><use href="#o" x="762.7" y="257.3"/><use href="#o" x="765.4" y="257.3"/><use href="#o" x="768" y="257.3"/><use href="#o" x="770.7" y="257.3"/><use href="#o" x="773.4" y="257.3"/><use href="#o" x="776.1" y="257.3"/><use href="#o" x="778.7" y="257.3"/><use href="#o" x="781.4" y="257.3"/><use href="#o" x="784.1" y="257.3"/><use href="#o" x="786.8" y="257.3"/><use href="#o" x="789.4" y="257.3"/><use href="#o" x="792.1" y="257.3"/><use href="#o" x="794.8" y="257.3"/><use href="#o" x="797.5" y="257.3"/><use href="#o" x="800.2" y="257.3"/><use href="#o" x="802.8" y="257.3"/><use href="#o" x="805.5" y="257.3"/><use href="#o" x="808.2" y="257.3"/><use href="#o" x="810.9" y="257.3"/><use href="#o" x="813.5" y="257.3"/><use href="#o" x="816.2" y="257.3"/><use href="#o" x="818.9" y="257.3"/><use href="#o" x="821.6" y="257.3"/><use href="#o" x="824.2" y="257.3"/></g>
<polyline points="690.4,168.32 690.47,169.24 690.53,170.15 690.6,171.05 690.67,171.95 690.73,172.83 690.8,173.71 690.87,174.57 690.94,175.43 691,176.28 691.07,177.12 691.14,177.95 691.2,178.77 691.27,179.59 691.34,180.39 691.4,181.19 691.47,181.98 691.54,182.76 691.6,183.53 691.67,184.29 691.74,185.05 691.81,185.8 691.87,186.54 691.94,187.27 692.01,188 692.07,188.72 692.14,189.43 692.21,190.13 692.27,190.83 692.34,191.52 692.41,192.2 692.47,192.87 692.54,193.54 692.61,194.2 692.68,194.85 692.74,195.5 692.81,196.14 692.88,196.78 692.94,197.4 693.01,198.02 693.08,198.64 693.14,199.25 693.21,199.85 693.28,200.44 693.34,201.03 693.41,201.62 693.48,202.19 693.55,202.76 693.61,203.33 693.68,203.89 693.75,204.44 693.81,204.99 693.88,205.53 693.95,206.07 694.01,206.6 694.08,207.12 694.15,207.64 694.21,208.16 694.28,208.67 694.35,209.17 694.42,209.67 694.48,210.16 694.55,210.65 694.62,211.14 694.68,211.61 694.75,212.09 694.82,212.56 694.88,213.02 694.95,213.48 695.02,213.93 695.08,214.38 695.15,214.83 695.22,215.27 695.29,215.7 695.35,216.13 695.42,216.56 695.49,216.98 695.55,217.4 695.62,217.81 695.69,218.22 695.75,218.63 695.82,219.03 695.89,219.43 695.95,219.82 696.02,220.21 696.09,220.59 696.16,220.97 696.22,221.35 696.29,221.72 696.36,222.09 696.42,222.45 696.49,222.81 696.56,223.17 696.62,223.53 696.69,223.88 696.76,224.22 696.82,224.56 696.89,224.9 696.96,225.24 697.03,225.57 697.09,225.9 697.16,226.23 697.23,226.55 697.29,226.87 697.36,227.18 697.43,227.49 697.49,227.8 697.56,228.11 697.63,228.41 697.69,228.71 697.76,229.01 697.83,229.3 697.9,229.59 697.96,229.88 698.03,230.16 698.1,230.44 698.16,230.72 698.23,231 698.3,231.27 698.36,231.54 698.43,231.81 698.5,232.07 698.56,232.33 698.63,232.59 698.7,232.85 698.77,233.1 698.83,233.35 698.9,233.6 698.97,233.84 699.03,234.09 699.1,234.33 699.17,234.57 699.23,234.8 699.3,235.03 699.37,235.27 699.43,235.49 699.5,235.72 699.57,235.94 699.64,236.16 699.7,236.38 699.77,236.6 699.84,236.81 699.9,237.03 699.97,237.24 700.04,237.44 700.1,237.65 700.17,237.85 700.24,238.06 700.3,238.26 700.37,238.45 700.44,238.65 700.51,238.84 700.57,239.03 700.64,239.22 700.71,239.41 700.77,239.59 700.84,239.78 700.91,239.96 700.97,240.14 701.04,240.32 701.11,240.49 701.17,240.67 701.24,240.84 701.31,241.01 701.38,241.18 701.44,241.35 701.51,241.51 701.58,241.67 701.64,241.84 701.71,242 701.78,242.16 701.84,242.31 701.91,242.47 701.98,242.62 702.04,242.77 702.11,242.92 702.18,243.07 702.25,243.22 702.31,243.37 702.38,243.51 702.45,243.65 702.51,243.8 702.58,243.94 702.65,244.07 702.71,244.21 702.78,244.35 702.85,244.48 702.91,244.61 702.98,244.74 703.05,244.88 703.12,245 703.18,245.13 703.25,245.26 703.32,245.38 703.38,245.51 703.45,245.63 703.52,245.75 703.58,245.87 703.65,245.99 703.72,246.1 703.78,246.22 704.62,247.57 705.46,248.76 706.29,249.8 707.13,250.72 707.97,251.52 708.8,252.23 709.64,252.85 710.48,253.39 711.31,253.87 712.15,254.29 712.99,254.65 713.82,254.98 714.66,255.26 715.5,255.51 716.33,255.73 717.17,255.92 718.01,256.09 718.84,256.24 719.68,256.37 720.52,256.48 721.35,256.58 722.19,256.67 723.03,256.75 723.86,256.81 724.7,256.87 725.54,256.92 726.37,256.97 727.21,257.01 728.05,257.05 728.88,257.08 729.72,257.1 730.55,257.13 731.39,257.15 732.23,257.17 733.06,257.18 733.9,257.2 734.74,257.21 735.57,257.22 736.41,257.23 737.25,257.24 738.08,257.25 738.92,257.25 739.76,257.26 740.59,257.26 741.43,257.27 742.27,257.27 743.1,257.28 743.94,257.28 744.78,257.28 745.61,257.28 746.45,257.29 747.29,257.29 748.12,257.29 748.96,257.29 749.8,257.29 750.63,257.29 751.47,257.29 752.31,257.29 753.14,257.29 753.98,257.3 754.82,257.3 755.65,257.3 756.49,257.3 757.32,257.3 758.16,257.3 759,257.3 759.83,257.3 760.67,257.3 761.51,257.3 762.34,257.3 763.18,257.3 764.02,257.3 764.85,257.3 765.69,257.3 766.53,257.3 767.36,257.3 768.2,257.3 769.04,257.3 769.87,257.3 770.71,257.3 771.55,257.3 772.38,257.3 773.22,257.3 774.06,257.3 774.89,257.3 775.73,257.3 776.57,257.3 777.4,257.3 778.24,257.3 779.08,257.3 779.91,257.3 780.75,257.3 781.59,257.3 782.42,257.3 783.26,257.3 784.1,257.3 784.93,257.3 785.77,257.3 786.6,257.3 787.44,257.3 788.28,257.3 789.11,257.3 789.95,257.3 790.79,257.3 791.62,257.3 792.46,257.3 793.3,257.3 794.13,257.3 794.97,257.3 795.81,257.3 796.64,257.3 797.48,257.3 798.32,257.3 799.15,257.3 799.99,257.3 800.83,257.3 801.66,257.3 802.5,257.3 803.34,257.3 804.17,257.3 805.01,257.3 805.85,257.3 806.68,257.3 807.52,257.3 808.36,257.3 809.19,257.3 810.03,257.3 810.87,257.3 811.7,257.3 812.54,257.3 813.37,257.3 814.21,257.3 815.05,257.3 815.88,257.3 816.72,257.3 817.56,257.3 818.39,257.3 819.23,257.3 820.07,257.3 820.9,257.3 821.74,257.3 822.58,257.3 823.41,257.3 824.25,257.3" fill="none" stroke="#8b0000" stroke-width="1.8" stroke-linejoin="round" clip-path="url(#c9)"/>
<line x1="690.4" y1="257.3" x2="824.25" y2="257.3" stroke="#000" stroke-width="1.8" stroke-dasharray="2.9 3.45" stroke-dashoffset="-1.15"/>
<path d="M690.4 166.5V266.4H824.25" fill="none" stroke="#000" stroke-width="1.05"/>
<path d="M690.4 266.4v-4.6M726.09 266.4v-4.6M761.79 266.4v-4.6M797.48 266.4v-4.6M824.25 266.4v-4.6M690.4 257.3h4.6M690.4 239.14h4.6M690.4 220.98h4.6M690.4 202.82h4.6M690.4 184.66h4.6M690.4 166.5h4.6" fill="none" stroke="#000" stroke-width="1.0"/>
<text x="692" y="278.7" font-size="11.3" text-anchor="middle" fill="#000">0</text>
<text x="727.69" y="278.7" font-size="11.3" text-anchor="middle" fill="#000">4</text>
<text x="763.39" y="278.7" font-size="11.3" text-anchor="middle" fill="#000">8</text>
<text x="799.08" y="278.7" font-size="11.3" text-anchor="middle" fill="#000">12</text>
<text x="687.2" y="260.35" font-size="11.3" text-anchor="end" fill="#000">0</text>
<text x="687.2" y="242.19" font-size="11.3" text-anchor="end" fill="#000">2</text>
<text x="687.2" y="224.03" font-size="11.3" text-anchor="end" fill="#000">4</text>
<text x="687.2" y="205.87" font-size="11.3" text-anchor="end" fill="#000">6</text>
<text x="687.2" y="187.71" font-size="11.3" text-anchor="end" fill="#000">8</text>
<text x="687.2" y="169.55" font-size="11.3" text-anchor="end" fill="#000">10</text>
<text x="820.95" y="175.8" font-size="11.25" text-anchor="end" fill="#000">exp(-<tspan font-style="italic">r</tspan>/0.72)</text>
<line x1="748.38" y1="172.6" x2="756.58" y2="172.6" stroke="#8b0000" stroke-width="1.65"/>
</g>
<text x="334.8" y="299" font-size="16.4" fill="#000">distance from epicenter <tspan font-style="italic" dy="1.1">r</tspan><tspan font-size="12.6"> [km]</tspan></text>
<g transform="translate(23.3 212.6) rotate(-90)" fill="#000"><text x="0" y="0" font-size="13.8">Δ</text><text x="10.0" y="0.1" font-size="15.2" letter-spacing="0.35" font-style="italic">V(r)</text><text x="40.8" y="-0.5" font-size="12.9">(cumulative,</text><text x="118.1" y="0.6" font-size="16.5" text-anchor="middle">×</text><text transform="translate(125.6 -2.3) scale(1 0.92)" font-size="12.95">1000)</text></g>
</svg>
</body>
</html>
